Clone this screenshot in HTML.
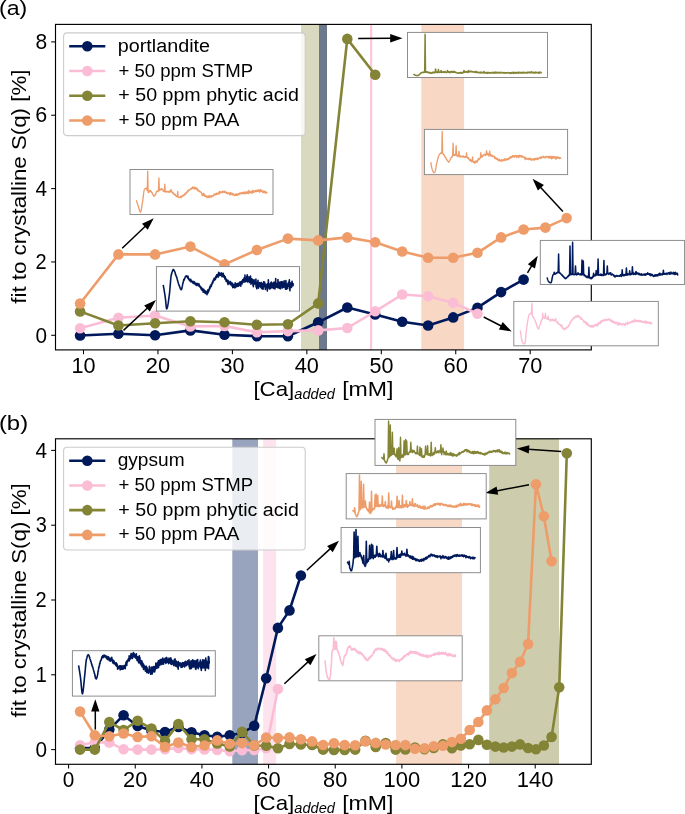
<!DOCTYPE html>
<html><head><meta charset="utf-8"><title>fit to crystalline S(q)</title>
<style>
html,body{margin:0;padding:0;background:#fff;}
body{width:685px;height:814px;overflow:hidden;font-family:"Liberation Sans", sans-serif;}
svg{display:block;will-change:transform;}
</style></head><body>
<svg width="685" height="814" viewBox="0 0 685 814" font-family='"Liberation Sans", sans-serif'>
<rect width="685" height="814" fill="#fff"/>
<rect x="301" y="24.4" width="18" height="325.5" fill="#d9d9c0"/>
<rect x="319" y="24.4" width="8" height="325.5" fill="#6c788c"/>
<rect x="370" y="24.4" width="2.2" height="325.5" fill="#fcc6dc"/>
<rect x="421.3" y="24.4" width="42.8" height="325.5" fill="#f8d8c4"/>
<polyline points="80.1,335.5 118.4,333.7 155.1,335.2 190.4,330.4 224.5,334.7 256.9,336.2 287.9,336.2 318.2,322.3 347.3,307.5 375.2,314.5 402.2,321.8 428.1,325.5 453.2,317.4 477.5,307.7 501.1,292.1 523.6,279.6" fill="none" stroke="#00195a" stroke-width="2.6" stroke-linejoin="round" stroke-linecap="butt"/>
<circle cx="80.1" cy="335.5" r="5.3" fill="#00195a"/>
<circle cx="118.4" cy="333.7" r="5.3" fill="#00195a"/>
<circle cx="155.1" cy="335.2" r="5.3" fill="#00195a"/>
<circle cx="190.4" cy="330.4" r="5.3" fill="#00195a"/>
<circle cx="224.5" cy="334.7" r="5.3" fill="#00195a"/>
<circle cx="256.9" cy="336.2" r="5.3" fill="#00195a"/>
<circle cx="287.9" cy="336.2" r="5.3" fill="#00195a"/>
<circle cx="318.2" cy="322.3" r="5.3" fill="#00195a"/>
<circle cx="347.3" cy="307.5" r="5.3" fill="#00195a"/>
<circle cx="375.2" cy="314.5" r="5.3" fill="#00195a"/>
<circle cx="402.2" cy="321.8" r="5.3" fill="#00195a"/>
<circle cx="428.1" cy="325.5" r="5.3" fill="#00195a"/>
<circle cx="453.2" cy="317.4" r="5.3" fill="#00195a"/>
<circle cx="477.5" cy="307.7" r="5.3" fill="#00195a"/>
<circle cx="501.1" cy="292.1" r="5.3" fill="#00195a"/>
<circle cx="523.6" cy="279.6" r="5.3" fill="#00195a"/>
<polyline points="80.1,328.2 118.4,317.7 155.1,315.5 190.4,326.4 224.5,326 256.9,332.3 287.9,331.1 318.2,330.4 347.3,328 375.2,311.3 402.2,294.5 428.1,296.3 453.2,302.8 477.5,313.8" fill="none" stroke="#fbbdd5" stroke-width="2.6" stroke-linejoin="round" stroke-linecap="butt"/>
<circle cx="80.1" cy="328.2" r="5.3" fill="#fbbdd5"/>
<circle cx="118.4" cy="317.7" r="5.3" fill="#fbbdd5"/>
<circle cx="155.1" cy="315.5" r="5.3" fill="#fbbdd5"/>
<circle cx="190.4" cy="326.4" r="5.3" fill="#fbbdd5"/>
<circle cx="224.5" cy="326" r="5.3" fill="#fbbdd5"/>
<circle cx="256.9" cy="332.3" r="5.3" fill="#fbbdd5"/>
<circle cx="287.9" cy="331.1" r="5.3" fill="#fbbdd5"/>
<circle cx="318.2" cy="330.4" r="5.3" fill="#fbbdd5"/>
<circle cx="347.3" cy="328" r="5.3" fill="#fbbdd5"/>
<circle cx="375.2" cy="311.3" r="5.3" fill="#fbbdd5"/>
<circle cx="402.2" cy="294.5" r="5.3" fill="#fbbdd5"/>
<circle cx="428.1" cy="296.3" r="5.3" fill="#fbbdd5"/>
<circle cx="453.2" cy="302.8" r="5.3" fill="#fbbdd5"/>
<circle cx="477.5" cy="313.8" r="5.3" fill="#fbbdd5"/>
<polyline points="80.1,311.4 118.4,325.5 155.1,323.3 190.4,321.2 224.5,322.3 256.9,324.8 287.9,324.2 318.2,303.4 347.3,38.9 375.2,74.7" fill="none" stroke="#848436" stroke-width="2.6" stroke-linejoin="round" stroke-linecap="butt"/>
<circle cx="80.1" cy="311.4" r="5.3" fill="#848436"/>
<circle cx="118.4" cy="325.5" r="5.3" fill="#848436"/>
<circle cx="155.1" cy="323.3" r="5.3" fill="#848436"/>
<circle cx="190.4" cy="321.2" r="5.3" fill="#848436"/>
<circle cx="224.5" cy="322.3" r="5.3" fill="#848436"/>
<circle cx="256.9" cy="324.8" r="5.3" fill="#848436"/>
<circle cx="287.9" cy="324.2" r="5.3" fill="#848436"/>
<circle cx="318.2" cy="303.4" r="5.3" fill="#848436"/>
<circle cx="347.3" cy="38.9" r="5.3" fill="#848436"/>
<circle cx="375.2" cy="74.7" r="5.3" fill="#848436"/>
<polyline points="80.1,303.5 118.4,254.4 155.1,254.4 190.4,246.6 224.5,264.4 256.9,250 287.9,238.6 318.2,240.4 347.3,237.4 375.2,242.3 402.2,251.5 428.1,257.7 453.2,257.7 477.5,252.8 501.1,237.4 523.6,229.5 545.4,227.6 566.6,218.1" fill="none" stroke="#ee9c6a" stroke-width="2.6" stroke-linejoin="round" stroke-linecap="butt"/>
<circle cx="80.1" cy="303.5" r="5.3" fill="#ee9c6a"/>
<circle cx="118.4" cy="254.4" r="5.3" fill="#ee9c6a"/>
<circle cx="155.1" cy="254.4" r="5.3" fill="#ee9c6a"/>
<circle cx="190.4" cy="246.6" r="5.3" fill="#ee9c6a"/>
<circle cx="224.5" cy="264.4" r="5.3" fill="#ee9c6a"/>
<circle cx="256.9" cy="250" r="5.3" fill="#ee9c6a"/>
<circle cx="287.9" cy="238.6" r="5.3" fill="#ee9c6a"/>
<circle cx="318.2" cy="240.4" r="5.3" fill="#ee9c6a"/>
<circle cx="347.3" cy="237.4" r="5.3" fill="#ee9c6a"/>
<circle cx="375.2" cy="242.3" r="5.3" fill="#ee9c6a"/>
<circle cx="402.2" cy="251.5" r="5.3" fill="#ee9c6a"/>
<circle cx="428.1" cy="257.7" r="5.3" fill="#ee9c6a"/>
<circle cx="453.2" cy="257.7" r="5.3" fill="#ee9c6a"/>
<circle cx="477.5" cy="252.8" r="5.3" fill="#ee9c6a"/>
<circle cx="501.1" cy="237.4" r="5.3" fill="#ee9c6a"/>
<circle cx="523.6" cy="229.5" r="5.3" fill="#ee9c6a"/>
<circle cx="545.4" cy="227.6" r="5.3" fill="#ee9c6a"/>
<circle cx="566.6" cy="218.1" r="5.3" fill="#ee9c6a"/>
<rect x="55.5" y="24.4" width="535.8" height="325.5" fill="none" stroke="#000" stroke-width="1.15"/>
<line x1="83.5" y1="349.9" x2="83.5" y2="354.2" stroke="#000" stroke-width="1.05"/>
<text x="71.48" y="372.8" font-size="21.4" textLength="24.1" lengthAdjust="spacingAndGlyphs">10</text>
<line x1="157.95" y1="349.9" x2="157.95" y2="354.2" stroke="#000" stroke-width="1.05"/>
<text x="145.76" y="372.8" font-size="21.4" textLength="24.27" lengthAdjust="spacingAndGlyphs">20</text>
<line x1="232.4" y1="349.9" x2="232.4" y2="354.2" stroke="#000" stroke-width="1.05"/>
<text x="220.55" y="372.8" font-size="21.4" textLength="23.92" lengthAdjust="spacingAndGlyphs">30</text>
<line x1="306.85" y1="349.9" x2="306.85" y2="354.2" stroke="#000" stroke-width="1.05"/>
<text x="294.78" y="372.8" font-size="21.4" textLength="24.14" lengthAdjust="spacingAndGlyphs">40</text>
<line x1="381.3" y1="349.9" x2="381.3" y2="354.2" stroke="#000" stroke-width="1.05"/>
<text x="369.43" y="372.8" font-size="21.4" textLength="23.94" lengthAdjust="spacingAndGlyphs">50</text>
<line x1="455.75" y1="349.9" x2="455.75" y2="354.2" stroke="#000" stroke-width="1.05"/>
<text x="443.48" y="372.8" font-size="21.4" textLength="24.35" lengthAdjust="spacingAndGlyphs">60</text>
<line x1="530.2" y1="349.9" x2="530.2" y2="354.2" stroke="#000" stroke-width="1.05"/>
<text x="518.17" y="372.8" font-size="21.4" textLength="24.1" lengthAdjust="spacingAndGlyphs">70</text>
<line x1="51.2" y1="335.3" x2="55.5" y2="335.3" stroke="#000" stroke-width="1.05"/>
<text x="35.49" y="342.5" font-size="21.4" textLength="11.55" lengthAdjust="spacingAndGlyphs">0</text>
<line x1="51.2" y1="261.95" x2="55.5" y2="261.95" stroke="#000" stroke-width="1.05"/>
<text x="35.44" y="269.15" font-size="21.4" textLength="11.13" lengthAdjust="spacingAndGlyphs">2</text>
<line x1="51.2" y1="188.6" x2="55.5" y2="188.6" stroke="#000" stroke-width="1.05"/>
<text x="35.49" y="195.8" font-size="21.4" textLength="11.55" lengthAdjust="spacingAndGlyphs">4</text>
<line x1="51.2" y1="115.25" x2="55.5" y2="115.25" stroke="#000" stroke-width="1.05"/>
<text x="35.29" y="122.45" font-size="21.4" textLength="11.95" lengthAdjust="spacingAndGlyphs">6</text>
<line x1="51.2" y1="41.9" x2="55.5" y2="41.9" stroke="#000" stroke-width="1.05"/>
<text x="35.43" y="49.1" font-size="21.4" textLength="11.68" lengthAdjust="spacingAndGlyphs">8</text>
<rect x="63.6" y="32.9" width="241.6" height="102.7" rx="3.5" fill="#fff" fill-opacity="0.8" stroke="#cccccc" stroke-width="1.1"/>
<line x1="69.2" y1="46.3" x2="105.3" y2="46.3" stroke="#00195a" stroke-width="2.6"/>
<circle cx="87.3" cy="46.3" r="5.3" fill="#00195a"/>
<text x="117.82" y="51.9" font-size="17.65" textLength="92.25" lengthAdjust="spacingAndGlyphs">portlandite</text>
<line x1="69.2" y1="71.03" x2="105.3" y2="71.03" stroke="#fbbdd5" stroke-width="2.6"/>
<circle cx="87.3" cy="71.03" r="5.3" fill="#fbbdd5"/>
<text x="118.45" y="76.63" font-size="17.65" textLength="134.57" lengthAdjust="spacingAndGlyphs">+ 50 ppm STMP</text>
<line x1="69.2" y1="95.76" x2="105.3" y2="95.76" stroke="#848436" stroke-width="2.6"/>
<circle cx="87.3" cy="95.76" r="5.3" fill="#848436"/>
<text x="118.39" y="101.36" font-size="17.65" textLength="180.46" lengthAdjust="spacingAndGlyphs">+ 50 ppm phytic acid</text>
<line x1="69.2" y1="120.49" x2="105.3" y2="120.49" stroke="#ee9c6a" stroke-width="2.6"/>
<circle cx="87.3" cy="120.49" r="5.3" fill="#ee9c6a"/>
<text x="118.43" y="126.09" font-size="17.65" textLength="120.99" lengthAdjust="spacingAndGlyphs">+ 50 ppm PAA</text>
<line x1="358.2" y1="38.4" x2="391.2" y2="38.25" stroke="#000" stroke-width="1.5"/>
<polygon points="402.5,38.2 390.22,42.4 390.18,34.1" fill="#000"/>
<line x1="562.9" y1="211.5" x2="540.24" y2="187.02" stroke="#000" stroke-width="1.5"/>
<polygon points="532.56,178.73 543.96,184.94 537.87,190.58" fill="#000"/>
<line x1="122.2" y1="248.2" x2="145.58" y2="225.95" stroke="#000" stroke-width="1.5"/>
<polygon points="153.76,218.16 147.71,229.64 141.99,223.63" fill="#000"/>
<line x1="123.5" y1="330.4" x2="147.71" y2="307.77" stroke="#000" stroke-width="1.5"/>
<polygon points="155.97,300.06 149.81,311.49 144.15,305.43" fill="#000"/>
<line x1="527.5" y1="272.8" x2="531.93" y2="265.45" stroke="#000" stroke-width="1.5"/>
<polygon points="537.76,255.77 534.97,268.45 527.86,264.17" fill="#000"/>
<line x1="483.7" y1="317" x2="501.7" y2="326.26" stroke="#000" stroke-width="1.5"/>
<polygon points="511.74,331.43 498.91,329.49 502.71,322.11" fill="#000"/>
<rect x="232.3" y="438.8" width="25.7" height="325.5" fill="#98a3bd"/>
<rect x="263.2" y="438.8" width="12.9" height="325.5" fill="#fde3ee"/>
<rect x="396.1" y="438.8" width="65.9" height="325.5" fill="#f8d9c6"/>
<rect x="489.2" y="438.8" width="69.8" height="325.5" fill="#cdcdae"/>
<polyline points="80.06,748 94.8,748 109.3,729.6 123.56,715.2 137.6,726 151.41,730.5 165,732 178.38,727 191.53,732.2 204.48,735.3 217.22,736.8 229.75,735.2 242.09,733 254.22,725.8 266.17,678.3 277.92,627.9 289.49,610.4 300.87,575.5" fill="none" stroke="#00195a" stroke-width="2.6" stroke-linejoin="round" stroke-linecap="butt"/>
<circle cx="80.06" cy="748" r="5.3" fill="#00195a"/>
<circle cx="94.8" cy="748" r="5.3" fill="#00195a"/>
<circle cx="109.3" cy="729.6" r="5.3" fill="#00195a"/>
<circle cx="123.56" cy="715.2" r="5.3" fill="#00195a"/>
<circle cx="137.6" cy="726" r="5.3" fill="#00195a"/>
<circle cx="151.41" cy="730.5" r="5.3" fill="#00195a"/>
<circle cx="165" cy="732" r="5.3" fill="#00195a"/>
<circle cx="178.38" cy="727" r="5.3" fill="#00195a"/>
<circle cx="191.53" cy="732.2" r="5.3" fill="#00195a"/>
<circle cx="204.48" cy="735.3" r="5.3" fill="#00195a"/>
<circle cx="217.22" cy="736.8" r="5.3" fill="#00195a"/>
<circle cx="229.75" cy="735.2" r="5.3" fill="#00195a"/>
<circle cx="242.09" cy="733" r="5.3" fill="#00195a"/>
<circle cx="254.22" cy="725.8" r="5.3" fill="#00195a"/>
<circle cx="266.17" cy="678.3" r="5.3" fill="#00195a"/>
<circle cx="277.92" cy="627.9" r="5.3" fill="#00195a"/>
<circle cx="289.49" cy="610.4" r="5.3" fill="#00195a"/>
<circle cx="300.87" cy="575.5" r="5.3" fill="#00195a"/>
<polyline points="80.06,745.2 94.8,742.2 109.3,742.4 123.56,749.3 137.6,749.6 151.41,749.6 165,749.2 178.38,748 191.53,749.2 204.48,749.4 217.22,750 229.75,751.3 242.09,750.3 254.22,750 266.17,748.2 277.92,689" fill="none" stroke="#fbbdd5" stroke-width="2.6" stroke-linejoin="round" stroke-linecap="butt"/>
<circle cx="80.06" cy="745.2" r="5.3" fill="#fbbdd5"/>
<circle cx="94.8" cy="742.2" r="5.3" fill="#fbbdd5"/>
<circle cx="109.3" cy="742.4" r="5.3" fill="#fbbdd5"/>
<circle cx="123.56" cy="749.3" r="5.3" fill="#fbbdd5"/>
<circle cx="137.6" cy="749.6" r="5.3" fill="#fbbdd5"/>
<circle cx="151.41" cy="749.6" r="5.3" fill="#fbbdd5"/>
<circle cx="165" cy="749.2" r="5.3" fill="#fbbdd5"/>
<circle cx="178.38" cy="748" r="5.3" fill="#fbbdd5"/>
<circle cx="191.53" cy="749.2" r="5.3" fill="#fbbdd5"/>
<circle cx="204.48" cy="749.4" r="5.3" fill="#fbbdd5"/>
<circle cx="217.22" cy="750" r="5.3" fill="#fbbdd5"/>
<circle cx="229.75" cy="751.3" r="5.3" fill="#fbbdd5"/>
<circle cx="242.09" cy="750.3" r="5.3" fill="#fbbdd5"/>
<circle cx="254.22" cy="750" r="5.3" fill="#fbbdd5"/>
<circle cx="266.17" cy="748.2" r="5.3" fill="#fbbdd5"/>
<circle cx="277.92" cy="689" r="5.3" fill="#fbbdd5"/>
<polyline points="80.06,749.6 94.8,749.6 109.3,722.1 123.56,730 137.6,720.8 151.41,728.6 165,740.9 178.38,724 191.53,739.3 204.48,739.3 217.22,743.4 229.75,746.5 242.09,731.9 254.22,745.5 266.17,745.7 277.92,748.2 289.49,744 300.87,744.5 312.07,745 323.1,749.6 333.95,750 344.63,750 355.15,749.6 365.5,740.7 375.7,747 385.74,743.1 395.63,749.6 405.37,749.5 414.96,747.6 424.42,749.3 433.73,748 442.91,744.4 451.96,748.2 460.88,745.5 469.68,744.2 478.35,739.9 486.91,744.8 495.36,746.6 503.69,747.5 511.92,746.6 520.04,744.4 528.07,748 535.99,749.2 543.83,745.5 551.57,736.9 559.23,687.3 566.81,453.2" fill="none" stroke="#848436" stroke-width="2.6" stroke-linejoin="round" stroke-linecap="butt"/>
<circle cx="80.06" cy="749.6" r="5.3" fill="#848436"/>
<circle cx="94.8" cy="749.6" r="5.3" fill="#848436"/>
<circle cx="109.3" cy="722.1" r="5.3" fill="#848436"/>
<circle cx="123.56" cy="730" r="5.3" fill="#848436"/>
<circle cx="137.6" cy="720.8" r="5.3" fill="#848436"/>
<circle cx="151.41" cy="728.6" r="5.3" fill="#848436"/>
<circle cx="165" cy="740.9" r="5.3" fill="#848436"/>
<circle cx="178.38" cy="724" r="5.3" fill="#848436"/>
<circle cx="191.53" cy="739.3" r="5.3" fill="#848436"/>
<circle cx="204.48" cy="739.3" r="5.3" fill="#848436"/>
<circle cx="217.22" cy="743.4" r="5.3" fill="#848436"/>
<circle cx="229.75" cy="746.5" r="5.3" fill="#848436"/>
<circle cx="242.09" cy="731.9" r="5.3" fill="#848436"/>
<circle cx="254.22" cy="745.5" r="5.3" fill="#848436"/>
<circle cx="266.17" cy="745.7" r="5.3" fill="#848436"/>
<circle cx="277.92" cy="748.2" r="5.3" fill="#848436"/>
<circle cx="289.49" cy="744" r="5.3" fill="#848436"/>
<circle cx="300.87" cy="744.5" r="5.3" fill="#848436"/>
<circle cx="312.07" cy="745" r="5.3" fill="#848436"/>
<circle cx="323.1" cy="749.6" r="5.3" fill="#848436"/>
<circle cx="333.95" cy="750" r="5.3" fill="#848436"/>
<circle cx="344.63" cy="750" r="5.3" fill="#848436"/>
<circle cx="355.15" cy="749.6" r="5.3" fill="#848436"/>
<circle cx="365.5" cy="740.7" r="5.3" fill="#848436"/>
<circle cx="375.7" cy="747" r="5.3" fill="#848436"/>
<circle cx="385.74" cy="743.1" r="5.3" fill="#848436"/>
<circle cx="395.63" cy="749.6" r="5.3" fill="#848436"/>
<circle cx="405.37" cy="749.5" r="5.3" fill="#848436"/>
<circle cx="414.96" cy="747.6" r="5.3" fill="#848436"/>
<circle cx="424.42" cy="749.3" r="5.3" fill="#848436"/>
<circle cx="433.73" cy="748" r="5.3" fill="#848436"/>
<circle cx="442.91" cy="744.4" r="5.3" fill="#848436"/>
<circle cx="451.96" cy="748.2" r="5.3" fill="#848436"/>
<circle cx="460.88" cy="745.5" r="5.3" fill="#848436"/>
<circle cx="469.68" cy="744.2" r="5.3" fill="#848436"/>
<circle cx="478.35" cy="739.9" r="5.3" fill="#848436"/>
<circle cx="486.91" cy="744.8" r="5.3" fill="#848436"/>
<circle cx="495.36" cy="746.6" r="5.3" fill="#848436"/>
<circle cx="503.69" cy="747.5" r="5.3" fill="#848436"/>
<circle cx="511.92" cy="746.6" r="5.3" fill="#848436"/>
<circle cx="520.04" cy="744.4" r="5.3" fill="#848436"/>
<circle cx="528.07" cy="748" r="5.3" fill="#848436"/>
<circle cx="535.99" cy="749.2" r="5.3" fill="#848436"/>
<circle cx="543.83" cy="745.5" r="5.3" fill="#848436"/>
<circle cx="551.57" cy="736.9" r="5.3" fill="#848436"/>
<circle cx="559.23" cy="687.3" r="5.3" fill="#848436"/>
<circle cx="566.81" cy="453.2" r="5.3" fill="#848436"/>
<polyline points="80.06,711.6 94.8,735.2 109.3,736.3 123.56,733.5 137.6,736.9 151.41,736.3 165,747 178.38,742.5 191.53,747 204.48,745.5 217.22,740.4 229.75,743.8 242.09,743.1 254.22,745.2 266.17,737.5 277.92,738 289.49,737.4 300.87,739.3 312.07,741.4 323.1,745 333.95,743.2 344.63,745.1 355.15,745.2 365.5,741.4 375.7,742.9 385.74,744.5 395.63,745 405.37,745.1 414.96,748.8 424.42,748.2 433.73,746.2 442.91,745.7 451.96,742.1 460.88,738.8 469.68,730 478.35,722 486.91,710.4 495.36,699.3 503.69,688 511.92,673 520.04,661.8 528.07,644 535.99,484.2 543.83,516.2 551.57,561.3" fill="none" stroke="#ee9c6a" stroke-width="2.6" stroke-linejoin="round" stroke-linecap="butt"/>
<circle cx="80.06" cy="711.6" r="5.3" fill="#ee9c6a"/>
<circle cx="94.8" cy="735.2" r="5.3" fill="#ee9c6a"/>
<circle cx="109.3" cy="736.3" r="5.3" fill="#ee9c6a"/>
<circle cx="123.56" cy="733.5" r="5.3" fill="#ee9c6a"/>
<circle cx="137.6" cy="736.9" r="5.3" fill="#ee9c6a"/>
<circle cx="151.41" cy="736.3" r="5.3" fill="#ee9c6a"/>
<circle cx="165" cy="747" r="5.3" fill="#ee9c6a"/>
<circle cx="178.38" cy="742.5" r="5.3" fill="#ee9c6a"/>
<circle cx="191.53" cy="747" r="5.3" fill="#ee9c6a"/>
<circle cx="204.48" cy="745.5" r="5.3" fill="#ee9c6a"/>
<circle cx="217.22" cy="740.4" r="5.3" fill="#ee9c6a"/>
<circle cx="229.75" cy="743.8" r="5.3" fill="#ee9c6a"/>
<circle cx="242.09" cy="743.1" r="5.3" fill="#ee9c6a"/>
<circle cx="254.22" cy="745.2" r="5.3" fill="#ee9c6a"/>
<circle cx="266.17" cy="737.5" r="5.3" fill="#ee9c6a"/>
<circle cx="277.92" cy="738" r="5.3" fill="#ee9c6a"/>
<circle cx="289.49" cy="737.4" r="5.3" fill="#ee9c6a"/>
<circle cx="300.87" cy="739.3" r="5.3" fill="#ee9c6a"/>
<circle cx="312.07" cy="741.4" r="5.3" fill="#ee9c6a"/>
<circle cx="323.1" cy="745" r="5.3" fill="#ee9c6a"/>
<circle cx="333.95" cy="743.2" r="5.3" fill="#ee9c6a"/>
<circle cx="344.63" cy="745.1" r="5.3" fill="#ee9c6a"/>
<circle cx="355.15" cy="745.2" r="5.3" fill="#ee9c6a"/>
<circle cx="365.5" cy="741.4" r="5.3" fill="#ee9c6a"/>
<circle cx="375.7" cy="742.9" r="5.3" fill="#ee9c6a"/>
<circle cx="385.74" cy="744.5" r="5.3" fill="#ee9c6a"/>
<circle cx="395.63" cy="745" r="5.3" fill="#ee9c6a"/>
<circle cx="405.37" cy="745.1" r="5.3" fill="#ee9c6a"/>
<circle cx="414.96" cy="748.8" r="5.3" fill="#ee9c6a"/>
<circle cx="424.42" cy="748.2" r="5.3" fill="#ee9c6a"/>
<circle cx="433.73" cy="746.2" r="5.3" fill="#ee9c6a"/>
<circle cx="442.91" cy="745.7" r="5.3" fill="#ee9c6a"/>
<circle cx="451.96" cy="742.1" r="5.3" fill="#ee9c6a"/>
<circle cx="460.88" cy="738.8" r="5.3" fill="#ee9c6a"/>
<circle cx="469.68" cy="730" r="5.3" fill="#ee9c6a"/>
<circle cx="478.35" cy="722" r="5.3" fill="#ee9c6a"/>
<circle cx="486.91" cy="710.4" r="5.3" fill="#ee9c6a"/>
<circle cx="495.36" cy="699.3" r="5.3" fill="#ee9c6a"/>
<circle cx="503.69" cy="688" r="5.3" fill="#ee9c6a"/>
<circle cx="511.92" cy="673" r="5.3" fill="#ee9c6a"/>
<circle cx="520.04" cy="661.8" r="5.3" fill="#ee9c6a"/>
<circle cx="528.07" cy="644" r="5.3" fill="#ee9c6a"/>
<circle cx="535.99" cy="484.2" r="5.3" fill="#ee9c6a"/>
<circle cx="543.83" cy="516.2" r="5.3" fill="#ee9c6a"/>
<circle cx="551.57" cy="561.3" r="5.3" fill="#ee9c6a"/>
<rect x="55.5" y="438.8" width="535.8" height="325.5" fill="none" stroke="#000" stroke-width="1.15"/>
<line x1="68.6" y1="764.3" x2="68.6" y2="768.6" stroke="#000" stroke-width="1.05"/>
<text x="62.82" y="787.2" font-size="21.4" textLength="11.55" lengthAdjust="spacingAndGlyphs">0</text>
<line x1="135.26" y1="764.3" x2="135.26" y2="768.6" stroke="#000" stroke-width="1.05"/>
<text x="123.07" y="787.2" font-size="21.4" textLength="24.27" lengthAdjust="spacingAndGlyphs">20</text>
<line x1="201.92" y1="764.3" x2="201.92" y2="768.6" stroke="#000" stroke-width="1.05"/>
<text x="189.85" y="787.2" font-size="21.4" textLength="24.14" lengthAdjust="spacingAndGlyphs">40</text>
<line x1="268.57" y1="764.3" x2="268.57" y2="768.6" stroke="#000" stroke-width="1.05"/>
<text x="256.3" y="787.2" font-size="21.4" textLength="24.35" lengthAdjust="spacingAndGlyphs">60</text>
<line x1="335.23" y1="764.3" x2="335.23" y2="768.6" stroke="#000" stroke-width="1.05"/>
<text x="323.09" y="787.2" font-size="21.4" textLength="24.22" lengthAdjust="spacingAndGlyphs">80</text>
<line x1="401.89" y1="764.3" x2="401.89" y2="768.6" stroke="#000" stroke-width="1.05"/>
<text x="383.58" y="787.2" font-size="21.4" textLength="36.67" lengthAdjust="spacingAndGlyphs">100</text>
<line x1="468.55" y1="764.3" x2="468.55" y2="768.6" stroke="#000" stroke-width="1.05"/>
<text x="450.24" y="787.2" font-size="21.4" textLength="36.67" lengthAdjust="spacingAndGlyphs">120</text>
<line x1="535.21" y1="764.3" x2="535.21" y2="768.6" stroke="#000" stroke-width="1.05"/>
<text x="516.89" y="787.2" font-size="21.4" textLength="36.67" lengthAdjust="spacingAndGlyphs">140</text>
<line x1="51.2" y1="749.6" x2="55.5" y2="749.6" stroke="#000" stroke-width="1.05"/>
<text x="35.49" y="756.8" font-size="21.4" textLength="11.55" lengthAdjust="spacingAndGlyphs">0</text>
<line x1="51.2" y1="674.8" x2="55.5" y2="674.8" stroke="#000" stroke-width="1.05"/>
<text x="35.66" y="682" font-size="21.4" textLength="11.03" lengthAdjust="spacingAndGlyphs">1</text>
<line x1="51.2" y1="600" x2="55.5" y2="600" stroke="#000" stroke-width="1.05"/>
<text x="35.44" y="607.2" font-size="21.4" textLength="11.13" lengthAdjust="spacingAndGlyphs">2</text>
<line x1="51.2" y1="525.2" x2="55.5" y2="525.2" stroke="#000" stroke-width="1.05"/>
<text x="35.75" y="532.4" font-size="21.4" textLength="11.09" lengthAdjust="spacingAndGlyphs">3</text>
<line x1="51.2" y1="450.4" x2="55.5" y2="450.4" stroke="#000" stroke-width="1.05"/>
<text x="35.49" y="457.6" font-size="21.4" textLength="11.55" lengthAdjust="spacingAndGlyphs">4</text>
<rect x="63.6" y="447.3" width="241.6" height="102.7" rx="3.5" fill="#fff" fill-opacity="0.8" stroke="#cccccc" stroke-width="1.1"/>
<line x1="69.2" y1="460.7" x2="105.3" y2="460.7" stroke="#00195a" stroke-width="2.6"/>
<circle cx="87.3" cy="460.7" r="5.3" fill="#00195a"/>
<text x="117.7" y="466.3" font-size="17.65" textLength="66.9" lengthAdjust="spacingAndGlyphs">gypsum</text>
<line x1="69.2" y1="485.43" x2="105.3" y2="485.43" stroke="#fbbdd5" stroke-width="2.6"/>
<circle cx="87.3" cy="485.43" r="5.3" fill="#fbbdd5"/>
<text x="118.45" y="491.03" font-size="17.65" textLength="134.57" lengthAdjust="spacingAndGlyphs">+ 50 ppm STMP</text>
<line x1="69.2" y1="510.16" x2="105.3" y2="510.16" stroke="#848436" stroke-width="2.6"/>
<circle cx="87.3" cy="510.16" r="5.3" fill="#848436"/>
<text x="118.39" y="515.76" font-size="17.65" textLength="180.46" lengthAdjust="spacingAndGlyphs">+ 50 ppm phytic acid</text>
<line x1="69.2" y1="534.89" x2="105.3" y2="534.89" stroke="#ee9c6a" stroke-width="2.6"/>
<circle cx="87.3" cy="534.89" r="5.3" fill="#ee9c6a"/>
<text x="118.43" y="540.49" font-size="17.65" textLength="120.99" lengthAdjust="spacingAndGlyphs">+ 50 ppm PAA</text>
<line x1="561.2" y1="451.5" x2="528.07" y2="449.24" stroke="#000" stroke-width="1.5"/>
<polygon points="516.8,448.47 529.36,445.16 528.79,453.44" fill="#000"/>
<line x1="529" y1="484.7" x2="496.41" y2="490.89" stroke="#000" stroke-width="1.5"/>
<polygon points="485.31,492.99 496.62,486.62 498.17,494.78" fill="#000"/>
<line x1="306.8" y1="570.3" x2="330.64" y2="548.4" stroke="#000" stroke-width="1.5"/>
<polygon points="338.97,540.76 332.72,552.14 327.1,546.02" fill="#000"/>
<line x1="284.4" y1="683.8" x2="308.28" y2="661.65" stroke="#000" stroke-width="1.5"/>
<polygon points="316.57,653.96 310.37,665.37 304.73,659.28" fill="#000"/>
<line x1="95.3" y1="729.6" x2="95.3" y2="710.6" stroke="#000" stroke-width="1.5"/>
<polygon points="95.3,699.3 99.45,711.6 91.15,711.6" fill="#000"/>
<rect x="407.5" y="32.4" width="140" height="45.1" fill="#fff" stroke="#888888" stroke-width="0.95"/>
<polyline points="413.4,73.9 413.6,74.11 413.8,74.29 414,74.44 414.2,74.63 414.4,74.76 414.6,74.87 414.8,75.01 415,75.11 415.2,75.2 415.4,75.26 415.6,75.36 415.8,75.36 416,75.43 416.2,75.46 416.4,75.55 416.6,75.55 416.8,75.55 417,75.53 417.2,75.57 417.4,75.6 417.6,75.58 417.8,75.7 418,75.64 418.2,75.24 418.4,75.19 418.6,75.2 418.8,75.02 419,74.9 419.2,74.7 419.4,74.7 419.6,74.15 419.8,74.03 420,74.11 420.2,73.76 420.4,73.6 420.6,73.31 420.8,73.03 421,73.18 421.2,73.08 421.4,72.81 421.6,72.79 421.8,72.8 422,72.58 422.2,72.63 422.4,72.59 422.6,72.51 422.8,72.36 423,72.48 423.2,72.48 423.4,72.34 423.6,72.1 423.8,72.35 424,72.11 424.2,72.35 424.4,71.97 424.6,72.33 424.7,72.15 425.1,34.3 425.5,72.11 425.6,72.17 425.8,71.89 426,71.86 426.2,72.14 426.4,72 426.6,72.17 426.8,72.31 427,71.78 427.2,72.26 427.4,72.53 427.6,72.21 427.8,72.13 428,72.57 428.2,72.5 428.4,72.72 428.6,72.46 428.8,72.24 429,72.63 429.2,72.6 429.4,72.96 429.6,72.86 429.8,72.45 430,72.6 430.2,73.15 430.4,73.13 430.6,72.82 430.8,73 431,73.11 431.2,73.11 431.4,73.2 431.6,73.01 431.8,72.89 432,72.81 432.2,73.09 432.4,72.21 432.6,72.69 432.8,72.68 433,72.26 433.2,72.65 433.4,72.36 433.6,72.7 433.8,72.41 434,72.58 434.2,72.7 434.4,72.48 434.6,72.16 434.8,71.99 435,72.79 435.2,72.32 435.2,72.35 435.6,68.9 436,72.31 436.2,72.31 436.4,72.3 436.6,72.11 436.8,72.4 437,72.02 437.2,72.44 437.4,72.65 437.6,71.88 437.8,71.64 438,72.4 438,72.25 438.4,69.4 438.8,72.23 439,72.02 439.2,72.09 439.4,72.13 439.6,72.34 439.8,72.1 440,72.27 440.2,72.15 440.4,71.98 440.6,72.1 440.7,72.18 441.1,70.5 441.5,72.15 441.6,72.52 441.8,72.13 442,72.13 442.2,72.26 442.4,72.02 442.6,72.07 442.8,72.22 443,72.18 443.2,71.82 443.4,72.32 443.6,71.96 443.8,71.84 444,71.88 444.2,72 444.4,72.51 444.6,71.81 444.8,72.14 445,71.57 445.2,72.1 445.4,72.32 445.6,72.04 445.8,71.94 446,72.16 446.2,72.28 446.4,72.27 446.6,72.59 446.8,72.15 447,71.95 447.1,72.1 447.5,70.5 447.9,72.1 448,72.14 448.2,71.68 448.4,72.31 448.6,71.96 448.8,71.81 449,72.26 449.2,72.43 449.4,72.22 449.6,72.14 449.8,71.87 450,72.81 450.2,72.31 450.4,71.79 450.6,71.87 450.8,72.07 451,71.65 451.2,72.06 451.4,71.89 451.6,72.29 451.8,72.21 452,71.27 452.2,71.94 452.4,71.51 452.6,72.17 452.8,71.92 453,72 453.2,71.58 453.4,72.29 453.6,72.33 453.8,71.55 454,71.9 454.2,71.63 454.4,71.79 454.6,71.5 454.8,72.34 455,71.72 455.2,72 455.4,72.32 455.6,72.17 455.8,72.41 456,72.46 456.2,72.7 456.4,72.55 456.6,72.81 456.8,72.93 457,72.92 457.2,73.01 457.4,72.93 457.6,73.19 457.8,72.92 458,72.97 458.2,72.83 458.4,72.87 458.6,72.68 458.8,73.13 459,72.71 459.2,72.81 459.4,73.09 459.6,73.1 459.8,72.9 460,72.5 460.2,73.11 460.4,73.06 460.6,72.64 460.8,73.18 461,72.79 461.2,72.66 461.4,72.95 461.6,72.85 461.8,72.91 462,72.42 462.2,73.24 462.4,72.6 462.6,72.32 462.8,72.81 463,72.53 463.2,72.65 463.4,72.43 463.6,72.46 463.6,72.47 464,70.5 464.4,72.28 464.6,72.02 464.8,72.22 465,72.27 465.2,72.06 465.4,71.87 465.6,72.21 465.8,71.58 466,71.74 466.2,71.99 466.4,71.61 466.6,71.94 466.8,71.9 467,72.11 467.2,71.64 467.4,71.69 467.6,71.9 467.8,71.18 468,72.55 468.2,71.58 468.4,71.55 468.4,71.74 468.8,70.5 469.2,71.67 469.4,71.87 469.6,71.53 469.8,71.56 470,71.74 470.2,71.39 470.4,71.72 470.6,71.65 470.8,71.43 471,71.25 471.2,71.55 471.4,71.39 471.6,71.87 471.8,71.66 472,71.84 472.2,71.69 472.4,71.74 472.6,71.5 472.8,71.88 473,72.18 473.2,71.68 473.4,71.64 473.6,71.77 473.8,71.72 474,71.7 474.2,71.94 474.4,71.86 474.6,72.33 474.8,72 475,72.11 475.2,72.3 475.4,72.02 475.6,72.49 475.6,72.13 476,71.2 476.4,72.26 476.6,71.94 476.8,72.31 477,71.94 477.2,72.73 477.4,72.39 477.6,72.28 477.8,72.23 478,72.39 478.2,72.45 478.4,72.27 478.6,72.32 478.8,72.51 479,72.45 479.2,72.82 479.4,72.88 479.6,72.61 479.8,72.73 480,72.28 480.2,72.78 480.4,72.62 480.6,72.76 480.8,73.04 481,72.08 481.2,72.72 481.4,72.39 481.6,72.81 481.8,72.34 482,72.55 482.2,72.73 482.4,72.84 482.6,72.71 482.8,72.5 483,72.57 483.2,72.93 483.4,72.71 483.6,72.3 483.6,72.72 484,71.4 484.4,72.74 484.6,72.95 484.8,72.48 485,72.89 485.2,72.63 485.4,72.93 485.6,73.01 485.8,72.58 486,72.75 486.2,72.78 486.4,73.07 486.6,72.95 486.8,72.47 487,72.9 487.2,72.97 487.4,73.32 487.6,72.37 487.8,72.66 488,73.12 488.2,72.45 488.4,72.49 488.6,72.92 488.8,73.05 489,72.63 489.2,72.93 489.4,72.83 489.6,73.18 489.8,72.8 490,73.05 490.2,72.57 490.4,72.75 490.6,72.77 490.8,73.08 491,72.94 491.2,72.6 491.4,72.96 491.6,72.98 491.8,72.75 492,72.71 492.2,72.73 492.4,72.35 492.6,72.81 492.8,72.82 493,72.54 493.2,72.94 493.4,72.4 493.6,72.6 493.8,72.62 494,73.23 494.2,72.32 494.4,72.86 494.6,72.95 494.8,72.8 495,73 495.2,72.44 495.4,72.12 495.6,72.87 495.8,72.38 496,72.59 496.2,72.37 496.4,72.92 496.6,72.87 496.8,72.47 497,72.87 497.2,72.67 497.4,72.6 497.6,72.64 497.8,72.57 498,72.77 498.2,72.69 498.4,72.53 498.6,72.86 498.8,72.46 499,72.68 499.2,72.71 499.4,72.97 499.6,72.47 499.8,73.04 500,72.64 500.2,72.55 500.4,72.43 500.6,72.75 500.8,72.62 501,72.33 501.2,72.33 501.4,72.48 501.6,72.45 501.8,72.9 502,72.98 502.2,72.85 502.4,72.73 502.6,72.54 502.8,72.67 503,72.89 503.2,73.21 503.4,72.91 503.6,72.62 503.8,72.71 504,72.58 504.2,72.52 504.4,72.68 504.6,72.78 504.8,73.2 505,72.76 505.2,73.1 505.4,73.21 505.6,72.8 505.8,73.19 506,72.97 506.2,72.7 506.4,72.88 506.6,72.83 506.8,72.77 507,72.79 507.2,72.88 507.4,72.96 507.6,72.64 507.8,72.86 508,72.49 508.2,72.94 508.4,73.04 508.6,72.92 508.8,72.96 509,73.04 509.2,72.73 509.4,72.84 509.6,73.03 509.8,73.15 510,73 510.2,73.54 510.4,72.88 510.6,73.15 510.8,73.21 511,72.86 511.2,72.69 511.4,72.6 511.6,72.93 511.8,73.16 512,72.95 512.2,72.92 512.4,72.78 512.6,73.01 512.8,72.34 513,72.92 513.2,72.87 513.4,72.51 513.6,73.4 513.8,72.5 514,72.57 514.2,72.54 514.4,73.11 514.6,72.61 514.8,72.99 515,72.96 515.2,72.88 515.4,72.48 515.6,72.65 515.8,73.21 516,72.47 516.2,72.58 516.4,72.74 516.6,72.98 516.8,72.83 517,72.95 517.2,72.49 517.4,72.99 517.6,72.89 517.8,72.34 518,73.12 518.2,73.31 518.4,72.54 518.6,72.74 518.8,73.07 519,72.35 519.2,72.22 519.4,72.38 519.6,72.56 519.8,72.56 520,72.85 520.2,72.76 520.4,72.38 520.6,72.83 520.8,73.16 521,72.99 521.2,72.93 521.4,72.69 521.6,72.93 521.8,72.44 522,72.86 522.2,72.65 522.4,72.95 522.6,72.79 522.8,72.39 523,72.7 523.2,72.97 523.4,72.38 523.6,72.52 523.8,72.46 524,72.28 524.2,72.89 524.4,72.98 524.6,72.85 524.8,72.71 525,72.63 525.2,72.7 525.4,72.46 525.6,72.86 525.8,72.9 526,72.87 526.2,72.5 526.4,72.65 526.6,72.59 526.8,73.08 527,72.67 527.2,72.15 527.4,72.72 527.6,73.09 527.8,72.79 528,72.84 528.2,72.63 528.4,72.12 528.6,72.16 528.8,72.3 529,72.58 529.2,72.68 529.4,72.78 529.6,72.52 529.8,72.84 530,72.53 530.2,72.42 530.4,72.81 530.6,72.37 530.8,71.91 531,72.33 531.2,72.61 531.4,71.82 531.6,72.5 531.8,72.5 532,72.23 532.2,72.21 532.4,72.46 532.6,72.44 532.8,72.89 533,72.67 533.2,72.18 533.4,72.36 533.6,72.74 533.8,73.04 534,72.66 534.2,72.64 534.4,73.03 534.6,72.55 534.8,72.48 535,72.2 535.2,72.43 535.4,73.1 535.6,72.19 535.8,72.55 536,72.19 536.2,72.58 536.4,72.77 536.6,72.48 536.8,72.72 537,72.72 537.2,72.65 537.4,72.96 537.6,72.73 537.8,72.46 538,72.36 538.2,72.32 538.4,72.65 538.6,72.44 538.8,73.21 539,72.98 539.2,72.47 539.4,72.44 539.6,72.94 539.8,72.04 540,72.4 540.2,72.75 540.4,72.28 540.6,72.39 540.8,72.42 541,72.67 541.2,72.54 541.4,72.6 541.6,72.65 541.8,72.51" fill="none" stroke="#848436" stroke-width="1.5" stroke-linejoin="round"/>
<rect x="424.4" y="129.4" width="143.2" height="45.2" fill="#fff" stroke="#888888" stroke-width="0.95"/>
<polyline points="430.8,162.2 431,163.53 431.2,164.76 431.4,165.83 431.6,166.96 431.8,167.86 432,168.63 432.2,169.4 432.4,170.02 432.6,170.54 432.8,171.1 433,171.44 433.2,171.78 433.4,172.03 433.6,172.33 433.8,172.46 434,172.62 434.2,172.62 434.4,172.71 434.6,172.59 434.8,172.47 435,171.93 435.2,171.25 435.4,170.42 435.6,169.31 435.8,168.42 436,167.44 436.2,165.9 436.4,164.76 436.6,163.7 436.8,162.97 437,162 437.2,161.36 437.4,160.56 437.6,159.71 437.8,158.95 438,158.12 438.2,157.54 438.4,156.57 438.6,156.05 438.8,155.61 439,155.42 439.2,154.68 439.4,154.35 439.6,154.18 439.8,154.19 440,153.76 440.2,153.83 440.4,153.07 440.6,153.47 440.8,153.33 441,152.78 441.2,153.04 441.4,153.25 441.6,153.06 441.75,153.09 442.2,131.4 442.65,153.62 442.8,153.87 443,153.83 443.2,154.02 443.4,154.25 443.6,154.67 443.8,154.53 444,154.7 444.2,154.78 444.4,156 444.6,156.04 444.8,156.73 445,156.65 445.2,156.77 445.4,157.39 445.6,157.52 445.8,157.5 446,157.93 446.2,159.03 446.4,158.99 446.6,159.38 446.8,159.54 447,159.77 447.2,160.59 447.4,160.61 447.6,160.71 447.8,161.16 448,161.14 448.2,161.66 448.4,162.09 448.6,161.52 448.8,162.26 449,161.47 449.2,161.56 449.4,160.98 449.6,160.87 449.8,160.59 450,160.02 450.2,159.49 450.4,159.04 450.6,158.53 450.8,157.8 451,157.82 451.2,157.64 451.4,157.44 451.6,157.02 451.8,157.39 452,156.41 452.2,155.92 452.4,156.55 452.6,155.29 452.65,155.62 453.1,143.2 453.55,154.91 453.6,155.22 453.8,154.76 454,154.44 454.2,155.43 454.4,155.11 454.6,154.86 454.8,154.6 455,154.9 455.2,154.9 455.4,155.29 455.6,155.37 455.65,155.08 456.1,145.7 456.55,155.35 456.6,155.14 456.8,155.38 457,155.74 457.2,156.04 457.4,155.27 457.6,155.85 457.8,155.52 458,156.57 458.2,155.8 458.4,156.08 458.55,155.93 459,151.1 459.45,156.2 459.6,155.62 459.8,156.55 460,155.98 460.2,157.07 460.4,156.3 460.6,156.9 460.8,155.92 461,156.69 461.2,156.19 461.4,156.38 461.6,156.61 461.8,156.5 462,156.76 462.2,156.99 462.4,156.97 462.6,156.69 462.8,156.19 463,156.45 463.2,156.72 463.4,155.95 463.6,157.17 463.8,156.79 464,156.81 464.2,157.34 464.4,157.25 464.6,157.09 464.8,156.59 465,157.17 465.2,157.21 465.4,156.71 465.6,157.56 465.8,157.36 466,156.33 466.15,157.2 466.6,153 467.05,157.39 467.2,157.05 467.4,157.56 467.6,157.54 467.8,158.46 468,158.29 468.2,158.03 468.4,158.61 468.6,157.67 468.8,158.92 469,159.39 469.2,159.14 469.4,159.11 469.6,159.88 469.8,160.69 470,160.06 470.2,159.59 470.4,160.87 470.6,159.49 470.8,160.69 471,160.32 471.2,161.13 471.4,160.44 471.6,161.56 471.8,161.21 472,160.39 472.15,161.27 472.6,156.9 473.05,161.72 473.2,161.68 473.4,162.21 473.6,162.12 473.8,162.14 474,161.6 474.2,162.67 474.4,162.79 474.6,161.56 474.8,163.29 475,162.54 475.2,161.95 475.4,161.23 475.6,162.39 475.8,162.25 476,161.58 476.2,160.88 476.4,162.13 476.6,161.15 476.8,161.03 477,162.46 477.2,161.92 477.4,161.16 477.6,160.28 477.8,160.62 478,159 478.2,159.98 478.4,159.38 478.6,158.95 478.8,158.64 479,159.51 479.2,159.13 479.4,158.98 479.6,159.14 479.8,158.11 480,157.72 480.2,157.26 480.35,158 480.8,152.7 481.25,157.14 481.4,156.77 481.6,156.45 481.8,156.04 482,157.43 482.2,156.77 482.4,155.82 482.6,155.69 482.8,155.93 483,155.12 483.2,155.96 483.4,154.98 483.6,155.34 483.8,154.9 484,155.07 484.2,154.53 484.4,154.31 484.6,154.52 484.8,154.58 485,154.69 485.2,154.79 485.4,155.46 485.6,155.04 485.8,154.45 486,154.91 486.05,154.53 486.5,150.6 486.95,154.51 487,154.89 487.2,154.93 487.4,153.18 487.6,154.18 487.8,154.34 488,153.63 488.2,154.09 488.4,154.18 488.6,154.94 488.8,154.87 489,156.09 489.2,154.6 489.25,154.81 489.7,151.1 490.15,155.01 490.2,154.05 490.4,154.68 490.6,155.5 490.8,155.97 491,155.53 491.2,155.53 491.4,154.9 491.6,156.17 491.8,156.15 492,155.29 492.2,155.64 492.4,155.26 492.6,156.63 492.8,156.22 493,156.09 493.2,156.48 493.4,156.64 493.6,156.36 493.8,156.08 494,156.21 494.2,156.14 494.4,157.41 494.6,158.46 494.8,156.62 495,157.7 495.2,157.99 495.4,157.43 495.6,158.18 495.8,157.67 496,159.02 496.2,158.28 496.4,158.81 496.6,159.27 496.8,158.85 497,158.29 497.2,159.03 497.4,159.77 497.6,159.42 497.8,159.66 498,159.06 498.2,159.76 498.4,160.13 498.6,159.85 498.8,160.87 499,159.85 499.2,159.48 499.4,159.25 499.6,160.72 499.8,160.15 500,160.74 500.2,160.5 500.4,161.13 500.6,160.98 500.8,160.16 501,160.51 501.2,160.94 501.4,159.76 501.6,161.14 501.8,161.02 502,160.9 502.2,160.28 502.4,160.52 502.6,159.77 502.8,160.35 503,159.99 503.2,160.31 503.4,159.98 503.6,160.34 503.8,160.76 504,159.44 504.2,160.55 504.4,159 504.6,158.86 504.8,159.86 505,159.88 505.2,160.05 505.4,158.91 505.6,159.68 505.8,159.72 506,160.24 506.2,159.48 506.4,159.75 506.6,158.91 506.8,159.26 507,159.07 507.2,159.6 507.4,158.65 507.6,158.65 507.8,159.29 508,159.82 508.2,158.99 508.4,158.84 508.6,158.39 508.8,159.02 509,158.62 509.2,159.12 509.4,158.28 509.6,157.5 509.8,157.58 510,157.25 510.2,157.01 510.4,158.21 510.6,157.88 510.8,156.73 511,158.22 511.2,157.36 511.4,156.67 511.6,157.31 511.8,157.02 512,156.59 512.2,155.93 512.4,156.9 512.6,156.97 512.8,155.42 513,157 513.2,156.98 513.4,156.36 513.6,156.61 513.8,156.35 514,156.02 514.2,156.22 514.4,157.07 514.6,155.57 514.8,156.41 515,156.35 515.2,155.85 515.4,155.96 515.6,155.44 515.8,155.7 516,156.14 516.2,156.28 516.4,155.64 516.6,157.7 516.8,155.8 517,156.17 517.2,155.98 517.4,155.9 517.6,156.8 517.8,155.88 518,156.83 518.2,156.74 518.4,155.61 518.6,156.72 518.8,155.85 519,157.64 519.2,156.02 519.4,155.75 519.6,155.26 519.8,155.61 520,156 520.2,155.81 520.4,155.71 520.6,156.02 520.8,156.3 521,157.2 521.2,155.57 521.4,156.2 521.6,156.02 521.8,155.76 522,155.92 522.2,156.14 522.4,157.04 522.6,156.62 522.8,156.5 523,157.19 523.2,157.1 523.4,156.92 523.6,157.34 523.8,156.81 524,157.68 524.2,157.71 524.4,157.36 524.6,157.04 524.8,158.6 525,157.96 525.2,159.62 525.4,157.77 525.6,158.66 525.8,158.06 526,158.51 526.2,158.88 526.4,158.08 526.6,158.5 526.8,158.69 527,158.72 527.2,159.03 527.4,159.31 527.6,159.26 527.8,159.01 528,158.74 528.2,158.37 528.4,158.63 528.6,158.79 528.8,159.48 529,158.96 529.2,158.54 529.4,159.57 529.6,158.85 529.8,158.91 530,159.23 530.2,159.63 530.4,158.12 530.6,158.83 530.8,159.54 531,159.27 531.2,159.02 531.4,159.2 531.6,160.23 531.8,159.26 532,159.88 532.2,159.92 532.4,159.25 532.6,159.71 532.8,159.22 533,159.12 533.2,158.83 533.4,159.87 533.6,159.17 533.8,159.07 534,158.73 534.2,160.27 534.4,159.67 534.6,159.17 534.8,158.84 535,158.36 535.2,159.3 535.4,159.27 535.6,158.33 535.8,159.66 536,159.42 536.2,158.46 536.4,158.64 536.6,158.67 536.8,158.95 537,158.76 537.2,157.92 537.4,159.55 537.6,158.9 537.8,159.36 538,159.31 538.2,158.48 538.4,158.72 538.6,158.88 538.8,158.84 539,158.28 539.2,157.98 539.4,158.27 539.6,157.76 539.8,157.83 540,156.97 540.2,158.04 540.4,157.38 540.6,157.57 540.8,157.78 541,157.91 541.2,158.7 541.4,157.73 541.6,156.8 541.8,157.57 542,157.12 542.2,157.61 542.4,156.97 542.6,156.91 542.8,156.97 543,156.86 543.2,156.18 543.4,156.77 543.6,157.09 543.8,157.71 544,156.89 544.2,156.82 544.4,157.32 544.6,157.29 544.8,157.86 545,157.32 545.2,156.99 545.4,157.73 545.6,157.83 545.8,156.76 546,157.1 546.2,156.11 546.4,156.83 546.6,156.56 546.8,156.93 547,156.8 547.2,156.98 547.4,157.02 547.6,157.35 547.8,157.22 548,156.81 548.2,156.42 548.4,157.8 548.6,157.92 548.8,156.91 549,157.48 549.2,156.36 549.4,156.35 549.6,157.07 549.8,158.03 550,156.68 550.2,156.81 550.4,158.15 550.6,156.26 550.8,157.65 551,157.58 551.2,157.22 551.4,157.45 551.6,158.78 551.8,156.76 552,157.21 552.2,157.26 552.4,157.03 552.6,156.69 552.8,158.3 553,157.56 553.2,156.5 553.4,157.08 553.6,157.7 553.8,157.71 554,156.72 554.2,157.47 554.4,157.67 554.6,157.76 554.8,157.77 555,156.57 555.2,158.59 555.4,157.71 555.6,158.59 555.8,159.18 556,157.54 556.2,156.97 556.4,158.13 556.6,157.57 556.8,157.44 557,157.13 557.2,158.64 557.4,157.48 557.6,156.97 557.8,157.51 558,157.13 558.2,157.87 558.4,157.57 558.6,157.23 558.8,158.15 559,157.49 559.2,158.25 559.4,158.56 559.6,157.68 559.8,157.54 560,158.02 560.2,158.42 560.4,157.94 560.6,158.03 560.8,157.96 561,158.16 561.2,158.35" fill="none" stroke="#ee9c6a" stroke-width="1.3" stroke-linejoin="round"/>
<rect x="130" y="169.5" width="143" height="45" fill="#fff" stroke="#888888" stroke-width="0.95"/>
<polyline points="136.3,200.31 136.5,200.89 136.7,201.54 136.9,202.14 137.1,202.75 137.3,203.35 137.5,203.89 137.7,204.54 137.9,205.1 138.1,205.87 138.3,206.31 138.5,206.9 138.7,207.59 138.9,208.29 139.1,209 139.3,209.75 139.5,210.49 139.7,211.02 139.9,211.61 140.1,211.87 140.3,212.08 140.5,212.21 140.7,211.81 140.9,211.13 141.1,210.36 141.3,209.47 141.5,208.53 141.7,207.06 141.9,205.81 142.1,204.71 142.3,203.23 142.5,202.16 142.7,201.1 142.9,199.6 143.1,197.94 143.3,196.37 143.5,194.15 143.7,193.21 143.9,191.48 144.1,190.2 144.3,189.69 144.5,189.33 144.7,188.9 144.9,188.59 145.1,188.63 145.3,188.47 145.5,188.65 145.7,188.43 145.9,188.26 146.1,188.44 146.3,188.27 146.5,188.41 146.7,189.21 146.9,189.77 147.1,190.19 147.25,190.71 147.7,171.1 148.15,192.59 148.3,192.15 148.5,192.51 148.7,192.06 148.9,192.3 149.1,191.26 149.3,191.3 149.5,191.51 149.7,191.42 149.9,190.27 150.1,190.66 150.3,190.91 150.5,190.69 150.7,191.49 150.9,190.82 151.1,191.52 151.3,191.36 151.5,192.42 151.7,192.31 151.9,192.55 152.1,192.5 152.3,193.92 152.5,194.01 152.7,194.37 152.9,194.84 153.1,194.92 153.3,194.91 153.5,195.13 153.7,195.36 153.9,196.23 154.1,195.46 154.3,195.8 154.5,195.88 154.7,195.92 154.9,195.78 155.1,194.84 155.3,194.26 155.5,194.36 155.7,194.25 155.9,193.59 156.1,192.91 156.3,192.27 156.5,192.06 156.7,191.54 156.9,191.65 157.1,190.97 157.3,191.18 157.5,191 157.7,191.14 157.9,190.96 158.1,191.69 158.3,191.28 158.45,190.72 158.9,177.8 159.35,190.42 159.5,189.56 159.7,190.65 159.9,190.46 160.1,189.45 160.3,189.35 160.5,189.19 160.7,189.28 160.9,189.29 161.1,189.63 161.3,188.71 161.5,188.98 161.7,188.77 161.9,189.46 162.1,189.3 162.3,189.79 162.5,189.23 162.7,189.89 162.9,190.01 163.1,191.19 163.3,191.17 163.5,191.04 163.7,191.13 163.9,191.57 164.1,191.23 164.3,191.23 164.35,191.59 164.8,184.1 165.25,191.8 165.3,191.36 165.5,191.3 165.7,192 165.9,192.12 166.1,191.8 166.3,191.93 166.5,191.84 166.7,191.85 166.9,191.21 167.1,191.62 167.3,191.84 167.5,191.5 167.7,191.61 167.9,191.48 168.1,191.67 168.3,192.13 168.5,191.64 168.7,191.72 168.9,192.07 169.1,191.97 169.3,192.33 169.5,190.78 169.7,191.89 169.9,191.3 170.1,191.49 170.3,191.73 170.5,191.78 170.55,191.34 171,189.5 171.45,191.4 171.5,191.36 171.7,191.85 171.9,191.43 172.1,192.7 172.3,192.41 172.5,193.09 172.7,192.39 172.9,192.46 173.1,192.92 173.3,193.39 173.5,193.06 173.7,193.69 173.9,193.75 174.1,194.64 174.3,193.87 174.5,194.76 174.7,194.2 174.9,194.23 175.1,194.5 175.3,194.46 175.5,195.2 175.7,195.76 175.9,195.56 176.1,195.94 176.3,196.55 176.5,196.13 176.7,196.27 176.9,196.23 177.1,195.81 177.25,196.62 177.7,191.3 178.15,197.19 178.3,197.23 178.5,196.98 178.7,197.57 178.9,197.21 179.1,197.41 179.3,197.52 179.5,197.43 179.7,197.39 179.9,197.06 180.1,197.31 180.3,196.37 180.5,197.2 180.7,196.65 180.9,197.62 181.1,197.59 181.3,196.02 181.5,196.88 181.7,196.64 181.9,196.11 182.1,196.72 182.3,196.14 182.5,195.42 182.7,195.99 182.9,195.93 183.1,195.92 183.3,195.15 183.5,195.85 183.7,195.72 183.9,194.65 184.1,194.67 184.3,194.73 184.5,194.27 184.7,195.13 184.9,194.17 185.1,193.35 185.3,193.22 185.5,193.33 185.7,194.22 185.9,192.81 186.1,192.73 186.3,192.7 186.5,192.23 186.7,193.16 186.9,191.63 187.1,192.08 187.3,191.63 187.5,191.69 187.7,190.64 187.9,191.9 188.1,190.8 188.3,190.7 188.5,190.05 188.7,189.97 188.9,190.44 189.1,190.47 189.3,190.18 189.5,190.24 189.7,189.83 189.9,189.32 190.1,189.57 190.3,189.3 190.5,188.8 190.7,189.07 190.9,189.22 191.1,188.57 191.3,188.15 191.5,188.58 191.7,189.08 191.9,187.91 192.1,187.89 192.3,187.8 192.5,188.44 192.7,186.82 192.9,187.92 193.1,188.32 193.3,187.28 193.5,188.48 193.7,188 193.9,187.47 194.1,187.9 194.3,187.05 194.5,187.62 194.7,188.94 194.9,187.6 195.1,189.13 195.3,188.21 195.5,188.89 195.7,188.5 195.9,187.41 196.1,188.42 196.3,188.95 196.5,188.38 196.7,188.41 196.9,189.47 197.1,189.08 197.3,188.67 197.5,189.36 197.7,190.35 197.9,189.79 198.1,190.71 198.3,191.19 198.5,190.54 198.7,190.07 198.9,190.13 199.1,190.98 199.3,191.63 199.5,191.45 199.7,191.76 199.9,191.4 200.1,192 200.3,191.78 200.5,192.07 200.7,191.76 200.9,191.83 201.1,192.65 201.3,192.52 201.5,192.82 201.7,193.91 201.9,193.67 202.1,195.5 202.3,194.55 202.5,193.81 202.7,194.71 202.9,194.6 203.1,194.14 203.3,195.25 203.5,194.33 203.7,193.17 203.9,195.43 204.1,194.76 204.3,196.04 204.5,194.96 204.7,194.77 204.9,196.4 205.1,195.04 205.3,195.85 205.5,196.65 205.7,195.99 205.9,195.98 206.1,196.16 206.3,196.66 206.5,195.82 206.7,196.68 206.9,196.73 207.1,197.78 207.3,196.34 207.5,196.07 207.7,197.05 207.9,196.45 208.1,196.88 208.3,196.82 208.5,197.43 208.7,196.42 208.9,196.74 209.1,195.36 209.3,196.29 209.5,197.65 209.7,196.37 209.9,196.33 210.1,196 210.3,196.96 210.5,196.68 210.7,195.85 210.9,196.83 211.1,196.52 211.3,196.72 211.5,195.85 211.7,197.11 211.9,196.26 212.1,195.86 212.3,195.54 212.5,195.59 212.7,196.11 212.9,195.37 213.1,196.03 213.3,195.64 213.5,195.97 213.7,195.55 213.9,194.95 214.1,193.79 214.3,194.95 214.5,195.12 214.7,194.67 214.9,194.8 215.1,194.12 215.3,194.08 215.5,193.68 215.7,194.92 215.9,194.15 216.1,193.7 216.3,193.14 216.5,193.74 216.7,194.57 216.9,193.92 217.1,193.15 217.3,194.31 217.5,194.22 217.7,193.87 217.9,193.67 218.1,193.8 218.3,193.35 218.5,193.4 218.7,192.42 218.9,193.65 219.1,192.83 219.3,193.79 219.5,191.36 219.7,192.87 219.9,192.96 220.1,192.13 220.3,192.52 220.5,192.63 220.7,192.48 220.9,191.78 221.1,191.96 221.3,192.6 221.5,192.72 221.7,192 221.9,191.97 222.1,192.03 222.3,192.51 222.5,191.29 222.7,191.13 222.9,191.99 223.1,191.28 223.3,191.61 223.5,192.02 223.7,192.28 223.9,191.4 224.1,192.53 224.3,191.06 224.5,192.46 224.7,191.26 224.9,191.48 225.1,192.65 225.3,192.08 225.5,191.9 225.7,192.16 225.9,192.75 226.1,192.49 226.3,192.56 226.5,193.25 226.7,192.26 226.9,192.46 227.1,192.48 227.3,193.53 227.5,193.47 227.7,193.69 227.9,192.96 228.1,192.93 228.3,193.57 228.5,192.88 228.7,193.66 228.9,193.66 229.1,192.87 229.3,193.29 229.5,193.33 229.7,194.5 229.9,195.07 230.1,193.53 230.3,193.67 230.5,192.36 230.7,193.91 230.9,193.85 231.1,193.28 231.3,194.45 231.5,193.1 231.7,193.97 231.9,194.24 232.1,193.47 232.3,194.78 232.5,194.95 232.7,193.53 232.9,193.56 233.1,194.81 233.3,194.46 233.5,193.79 233.7,194.36 233.9,194.5 234.1,194.5 234.3,195.09 234.5,194.83 234.7,195.66 234.9,195.42 235.1,194.99 235.3,195.22 235.5,195.35 235.7,194.96 235.9,193.76 236.1,194.99 236.3,194.48 236.5,195.38 236.7,194.42 236.9,194.64 237.1,194.48 237.3,195.25 237.5,194.29 237.7,193.97 237.9,194.27 238.1,193.76 238.3,194.07 238.5,193.92 238.7,194.03 238.9,194.98 239.1,193.51 239.3,193.72 239.5,193.52 239.7,194 239.9,192.81 240.1,193.06 240.3,193.4 240.5,193.71 240.7,193.3 240.9,192.97 241.1,192.7 241.3,193.5 241.5,194.03 241.7,193.31 241.9,193.19 242.1,193.31 242.3,192.43 242.5,192.8 242.7,192.8 242.9,193.12 243.1,192.9 243.3,192.15 243.5,193.57 243.7,193.9 243.9,192.68 244.1,193.07 244.3,192.97 244.5,193.27 244.7,191.86 244.9,193.75 245.1,192.45 245.3,193.5 245.5,192.76 245.7,192.45 245.9,192.59 246.1,193.22 246.3,192.11 246.5,192.4 246.7,192.32 246.9,191.54 247.1,193.39 247.3,192.93 247.5,192.54 247.7,193.26 247.9,191.92 248.1,192.45 248.3,193.55 248.5,193.06 248.7,191.05 248.9,190.34 249.1,191.74 249.3,193.02 249.5,192.04 249.7,192.17 249.9,192.65 250.1,191.69 250.3,192.34 250.5,192.67 250.7,192.43 250.9,192.34 251.1,191.68 251.3,192.34 251.5,191.7 251.7,192.75 251.9,193.5 252.1,191.38 252.3,190.43 252.5,191.48 252.7,191.94 252.9,192.32 253.1,192.29 253.3,191.07 253.5,191.02 253.7,192.27 253.9,190.74 254.1,192.07 254.3,191.19 254.5,191.78 254.7,191.7 254.9,191.7 255.1,191.69 255.3,190.5 255.5,191.27 255.7,191.06 255.9,191.21 256.1,191.76 256.3,190.77 256.5,190.46 256.7,190.42 256.9,190.66 257.1,191.3 257.3,190.29 257.5,191.52 257.7,190.95 257.9,190.6 258.1,189.88 258.3,190.87 258.5,191.15 258.7,189.58 258.9,191.46 259.1,191.75 259.3,190.92 259.5,191.03 259.7,192.27 259.9,191.53 260.1,190.18 260.3,190.77 260.5,190.71 260.7,190.74 260.9,189.35 261.1,191.39 261.3,190.53 261.5,191.09 261.7,190.94 261.9,191.64 262.1,190.94 262.3,190.67 262.5,191.59 262.7,192.21 262.9,191.16 263.1,192.31 263.3,191.67 263.5,191.23 263.7,192.63 263.9,191.19 264.1,192.45 264.3,191.55 264.5,192.25 264.7,191.24 264.9,191.59 265.1,192.91 265.3,192.43 265.5,192.42 265.7,192.21 265.9,192.88 266.1,191.78 266.3,192.06 266.5,192.78 266.7,192.44 266.9,192.63 267.1,193.15 267.3,193.21" fill="none" stroke="#ee9c6a" stroke-width="1.3" stroke-linejoin="round"/>
<rect x="156.4" y="266.6" width="143.1" height="44.5" fill="#fff" stroke="#888888" stroke-width="0.95"/>
<polyline points="163.2,284.9 163.35,285.66 163.5,286.47 163.65,287.28 163.8,288.09 163.95,288.98 164.1,289.86 164.25,290.79 164.4,291.68 164.55,292.68 164.7,293.65 164.85,294.69 165,295.65 165.15,296.68 165.3,297.64 165.45,298.99 165.6,300.21 165.75,301.9 165.9,303.41 166.05,304.92 166.2,306.32 166.35,307.48 166.5,308.38 166.65,308.76 166.8,308.87 166.95,308.47 167.1,308.3 167.25,307.81 167.4,307.4 167.55,306.53 167.7,305.94 167.85,305.17 168,304.13 168.15,303.4 168.3,302.32 168.45,301.35 168.6,300.26 168.75,298.95 168.9,297.84 169.05,296.78 169.2,295.76 169.35,294.66 169.5,293.32 169.65,291.93 169.8,290.29 169.95,288.55 170.1,286.72 170.25,284.83 170.4,283.23 170.55,281.07 170.7,279.41 170.85,278.02 171,276.56 171.15,275.69 171.3,275.06 171.45,274.53 171.6,273.58 171.75,273.41 171.9,272.56 172.05,272.11 172.2,271.73 172.35,271.26 172.5,270.93 172.65,270.44 172.8,270.12 172.95,269.97 173.1,269.59 173.25,269.93 173.4,269.57 173.55,269.54 173.7,270.3 173.85,270.05 174,270.05 174.15,270.92 174.3,270.78 174.45,271.39 174.6,271.36 174.75,271.86 174.9,271.96 175.05,272.33 175.2,272.97 175.35,273.62 175.5,274.27 175.65,275.1 175.8,274.75 175.95,275.68 176.1,275.73 176.25,276.26 176.4,276.34 176.55,276.74 176.7,277.34 176.85,277.68 177,278.45 177.15,278.75 177.3,279.75 177.45,279.96 177.6,280.47 177.75,281.25 177.9,281.59 178.05,281.95 178.2,282.44 178.35,282.93 178.5,283.76 178.65,284.15 178.8,284.49 178.95,285.06 179.1,285.08 179.25,285.79 179.4,285.58 179.55,286.77 179.7,286.78 179.85,287.2 180,287.72 180.15,287.9 180.3,288.18 180.45,288.96 180.6,288.89 180.75,288.78 180.9,289.37 181.05,288.74 181.2,289.81 181.35,289.04 181.5,288.82 181.65,289.16 181.8,288.64 181.95,287.37 182.1,286.92 182.25,286.41 182.4,285.93 182.55,284.59 182.7,284 182.85,283.73 183,282.78 183.15,282.41 183.3,281.89 183.45,280.86 183.6,280.6 183.75,279.56 183.9,280.09 184.05,280.33 184.2,279.02 184.35,279.57 184.5,279.13 184.65,278.38 184.8,278.07 184.95,277.79 185.1,277.12 185.25,277.08 185.4,276.93 185.55,276.98 185.7,276.87 185.85,276.06 186,276.6 186.15,275.83 186.3,276.04 186.45,276.26 186.6,276.12 186.75,276.13 186.9,276.4 187.05,276.14 187.2,276.23 187.35,276.59 187.5,277.31 187.65,277.01 187.8,278.16 187.95,277.58 188.1,276.29 188.25,277.73 188.4,278.99 188.55,278.42 188.7,278.44 188.85,278.45 189,279.78 189.15,279.84 189.3,279.88 189.45,279.95 189.6,280.65 189.75,280.49 189.9,279.56 190.05,280.73 190.2,280.53 190.35,280.5 190.5,281.08 190.65,280.8 190.8,279.3 190.95,281.86 191.1,281.68 191.25,281.14 191.4,281.1 191.55,281.53 191.7,280.77 191.85,281.77 192,281.56 192.15,281.58 192.3,281.33 192.45,281.56 192.6,282.7 192.75,282.93 192.9,282.52 193.05,282.28 193.2,281.86 193.35,282.91 193.5,283.54 193.65,281.64 193.8,283.44 193.95,281.45 194.1,282.67 194.25,283.21 194.4,282.18 194.55,282.16 194.7,283.33 194.85,283.85 195,283.05 195.15,284.31 195.3,282.99 195.45,284.73 195.6,283.72 195.75,283.86 195.9,284.18 196.05,284.05 196.2,285.15 196.35,285.46 196.5,284.39 196.65,283.96 196.8,283.32 196.95,283.68 197.1,284.27 197.25,284.26 197.4,284.37 197.55,284.47 197.7,284.89 197.85,283.63 198,283.94 198.15,285.58 198.3,285.46 198.45,284.53 198.6,285.97 198.75,284.6 198.9,285.01 199.05,283.93 199.2,286.04 199.35,285.51 199.5,286.46 199.65,286.33 199.8,286.01 199.95,286.23 200.1,287.21 200.25,286.33 200.4,286.53 200.55,286.9 200.7,287.68 200.85,287.98 201,288.99 201.15,287.59 201.3,288.89 201.45,287.54 201.6,288.76 201.75,288.57 201.9,290.09 202.05,289.35 202.2,288.65 202.35,289.67 202.5,289.64 202.65,289.23 202.8,289.38 202.95,288.96 203.1,292.26 203.25,290.17 203.4,291.03 203.55,289.33 203.7,289.54 203.85,290.49 204,290.64 204.15,291.62 204.3,290.17 204.45,291.67 204.6,292.67 204.75,290.63 204.9,292.39 205.05,290.83 205.2,292.11 205.35,292.23 205.5,293.56 205.65,291.48 205.8,292.33 205.95,293.18 206.1,291.26 206.25,292.35 206.4,291.62 206.55,291.8 206.7,293.05 206.85,293.06 207,294.7 207.15,293.58 207.3,293.42 207.45,292.02 207.6,291.76 207.75,291.99 207.9,289.68 208.05,292.94 208.2,290.68 208.35,290.1 208.5,290.37 208.65,291.28 208.8,291.32 208.95,289.61 209.1,290.03 209.25,289.29 209.4,288.17 209.55,288.87 209.7,288.43 209.85,286.76 210,288.73 210.15,286.11 210.3,287.37 210.45,285.96 210.6,285.87 210.75,285.69 210.9,286.63 211.05,284.67 211.2,285.3 211.35,286.49 211.5,284.26 211.65,284.51 211.8,284.77 211.95,283.37 212.1,283.94 212.25,282.63 212.4,283.45 212.55,282.57 212.7,281.38 212.85,283.03 213,281.43 213.15,280.95 213.3,280.1 213.45,280.18 213.6,280.2 213.75,280.15 213.9,280.67 214.05,278.4 214.2,278.99 214.35,280.08 214.5,279.04 214.65,279.04 214.8,279.84 214.95,278.61 215.1,278.53 215.25,277.92 215.4,279.23 215.55,278.45 215.7,276.8 215.85,277.68 216,276.1 216.15,277.77 216.3,277.26 216.45,276.41 216.6,276.05 216.75,274.75 216.9,276.71 217.05,275.84 217.2,275.55 217.35,276.27 217.5,275.02 217.65,274.97 217.8,274.78 217.95,274.15 218.1,277.13 218.25,274.94 218.4,274.75 218.55,275.71 218.7,272.4 218.85,274.89 219,274.91 219.15,274.11 219.3,275.27 219.45,273.27 219.6,274.9 219.75,275.61 219.9,273.12 220.05,273.74 220.2,274.78 220.35,274.89 220.5,274.38 220.65,275.21 220.8,275.13 220.95,273.82 221.1,274.87 221.25,273.89 221.4,273.23 221.55,272.95 221.7,275.9 221.85,274.94 222,276.77 222.15,273.83 222.3,274.82 222.45,275.46 222.6,275.07 222.75,275.68 222.9,275.4 223.05,274.75 223.2,273.24 223.35,274.54 223.5,277.07 223.65,276.32 223.8,277.03 223.95,275.38 224.1,275.93 224.25,275.5 224.4,276.92 224.55,276.85 224.7,277.48 224.85,279.01 225,276.78 225.15,278.58 225.3,276.78 225.45,279.52 225.6,278.29 225.75,278.94 225.9,279.43 226.05,281.22 226.2,279.81 226.35,279.6 226.5,279.14 226.65,280.86 226.8,279.92 226.95,280.47 227.1,281.14 227.25,282.02 227.4,280.72 227.55,282.33 227.7,283.64 227.85,280.33 228,283.51 228.15,284.51 228.3,281.71 228.45,283.15 228.6,281.13 228.75,283.13 228.9,282.54 229.05,283.36 229.2,282.14 229.35,282.36 229.5,282.9 229.65,282.71 229.8,282.93 229.95,283.5 230.1,282.57 230.25,283.77 230.4,284.59 230.55,281.46 230.7,284.44 230.85,283.43 231,283.06 231.15,282.86 231.3,283.5 231.45,283.68 231.6,285.02 231.75,283.16 231.9,285.95 232.05,283.76 232.2,285.61 232.35,286.15 232.5,283.38 232.65,286.22 232.8,287.64 232.95,284.47 233.1,285.79 233.25,284.95 233.4,285.26 233.55,284.97 233.7,284.61 233.85,286.2 234,286.44 234.15,285.36 234.3,287.32 234.45,286.82 234.6,286.35 234.75,284.54 234.9,287.96 235.05,287.24 235.2,282.72 235.35,284.09 235.5,284.93 235.65,286.81 235.8,287.23 235.95,285.2 236.1,285.91 236.25,286.51 236.4,283.83 236.55,286.32 236.7,285.06 236.85,285.68 237,285.3 237.15,283.68 237.3,283.85 237.45,285.2 237.6,285.23 237.75,284.59 237.9,286.34 238.05,284.25 238.2,282.93 238.35,284.04 238.5,284.17 238.65,284.11 238.8,285.83 238.95,284.78 239.1,285.44 239.25,284.7 239.4,283.44 239.55,285.07 239.7,283.06 239.85,283.68 240,281.73 240.15,283.23 240.3,282.49 240.45,283.42 240.6,285.46 240.75,286.2 240.9,284.09 241.05,282.44 241.2,283.64 241.35,282.65 241.5,281.28 241.65,282.01 241.8,281.62 241.95,280.98 242.1,283.92 242.25,280.86 242.4,280.82 242.55,282.57 242.7,280.29 242.85,279.47 243,279.82 243.15,281.8 243.3,281.53 243.45,281.3 243.6,279.98 243.75,279.16 243.9,281.96 244.05,278.09 244.2,279.96 244.35,278.07 244.5,279.45 244.65,279.77 244.8,281.92 244.95,275.15 245.1,281.98 245.25,278.22 245.4,280.08 245.55,280.85 245.7,278.18 245.85,279.24 246,280.15 246.15,279.06 246.3,277.99 246.45,279.5 246.6,279.33 246.75,276.57 246.9,281.39 247.05,279.45 247.2,274.92 247.35,277.63 247.5,282.01 247.65,281.8 247.8,279.55 247.95,276.19 248.1,278.72 248.25,281.02 248.4,279.9 248.55,278.68 248.7,278.02 248.85,280.83 249,279.06 249.15,280.08 249.3,280.45 249.45,282.57 249.6,280.05 249.75,280.26 249.9,276.67 250.05,281.97 250.2,281.65 250.35,280.11 250.5,276.12 250.65,279.29 250.8,280.53 250.95,284.28 251.1,281.64 251.25,282.1 251.4,282.24 251.55,283.26 251.7,278.85 251.85,279.44 252,278.92 252.15,280.63 252.3,280.59 252.45,281.51 252.6,279.54 252.75,281.68 252.9,280.05 253.05,285.61 253.2,280.86 253.35,286.64 253.5,285.07 253.65,279.96 253.8,284.06 253.95,283.53 254.1,279.69 254.25,283.78 254.4,282.61 254.55,283.55 254.7,281.44 254.85,283.03 255,284.03 255.15,283.05 255.3,282.37 255.45,283.33 255.6,281.91 255.75,284.49 255.9,279.17 256.05,286.89 256.2,284.29 256.35,285.16 256.5,285.98 256.65,282.13 256.8,288.84 256.95,282.52 257.1,285.59 257.25,285.4 257.4,287.33 257.55,284.89 257.7,282.29 257.85,285.62 258,280.37 258.15,284.7 258.3,284.24 258.45,288.11 258.6,284.65 258.75,284.35 258.9,283.8 259.05,283.64 259.2,284.25 259.35,286.48 259.5,282.84 259.65,285 259.8,282.62 259.95,285.13 260.1,285.8 260.25,283.14 260.4,284.43 260.55,285.76 260.7,287.07 260.85,287.45 261,285.42 261.15,283.73 261.3,282.54 261.45,287.21 261.6,288.43 261.75,286.46 261.9,288.81 262.05,284.91 262.2,285.04 262.35,288.89 262.5,283.88 262.65,287.04 262.8,286.63 262.95,286.19 263.1,289.3 263.25,284.2 263.4,285.09 263.55,281.84 263.7,283.89 263.85,284.95 264,285.21 264.15,285.58 264.3,286.58 264.45,284.67 264.6,282.08 264.75,286.3 264.9,286.83 265.05,283.69 265.2,284.43 265.35,289.5 265.5,288.04 265.65,288.16 265.8,287.33 265.95,286.28 266.1,284.97 266.25,287.13 266.4,285.58 266.55,285.09 266.7,285.95 266.85,285.8 267,287.75 267.15,284.03 267.3,290.97 267.45,283.92 267.6,285.08 267.75,287.84 267.9,284.24 268.05,284.94 268.2,285.97 268.35,279.9 268.5,284.87 268.65,283.93 268.8,285.38 268.95,286.89 269.1,287.17 269.25,288.92 269.4,288.79 269.55,287.95 269.7,285.75 269.85,287.96 270,283.78 270.15,285.61 270.3,288.75 270.45,287.41 270.6,282.91 270.75,284.55 270.9,287.62 271.05,287.02 271.2,287.97 271.35,282.09 271.5,283.11 271.65,285.2 271.8,283.69 271.95,285.64 272.1,285.72 272.25,286.41 272.4,285.41 272.55,286.84 272.7,287.29 272.85,285.98 273,283.11 273.15,288.34 273.3,286.09 273.45,286.51 273.6,285.98 273.75,282.24 273.9,286.81 274.05,284.22 274.2,283.03 274.35,288.27 274.5,284.93 274.65,286.17 274.8,287.43 274.95,288.95 275.1,281.72 275.25,283.96 275.4,286.94 275.55,284.1 275.7,278.61 275.85,285.8 276,285.96 276.15,287.16 276.3,285.95 276.45,284.52 276.6,285.9 276.75,285.36 276.9,284.35 277.05,285.96 277.2,286.17 277.35,283.24 277.5,287.58 277.65,287.15 277.8,287.05 277.95,279.48 278.1,285.6 278.25,285.07 278.4,283.18 278.55,286.56 278.7,282.07 278.85,287.94 279,286.12 279.15,284.19 279.3,288.33 279.45,286.25 279.6,285.97 279.75,282.42 279.9,286.36 280.05,288.26 280.2,287.59 280.35,282.39 280.5,288.2 280.65,288.65 280.8,287 280.95,284.31 281.1,281.87 281.25,283.14 281.4,283.85 281.55,285.69 281.7,286.29 281.85,283.45 282,281.48 282.15,284.14 282.3,282.12 282.45,287.95 282.6,282.31 282.75,286.05 282.9,286.8 283.05,282.82 283.2,287.17 283.35,284.64 283.5,283.19 283.65,282.84 283.8,285.17 283.95,287.29 284.1,280.71 284.25,286.26 284.4,284.56 284.55,283.22 284.7,284.66 284.85,284.87 285,284.76 285.15,286.7 285.3,282.88 285.45,289.3 285.6,286.89 285.75,283.57 285.9,280.59 286.05,284.86 286.2,284 286.35,286.58 286.5,286.54 286.65,289.22 286.8,284.64 286.95,286.72 287.1,283.99 287.25,284.11 287.4,288.41 287.55,284.65 287.7,284.72 287.85,284.16 288,285.71 288.15,286.32 288.3,284.71 288.45,282.39 288.6,285.76 288.75,283.12 288.9,284.18 289.05,285.49 289.2,285.57 289.35,279.71 289.5,288.88 289.65,286.83 289.8,289.43 289.95,290.76 290.1,282.85 290.25,283.7 290.4,285.55 290.55,287.13 290.7,283.8 290.85,284.25 291,287.43 291.15,282.92 291.3,285.44 291.45,287.45 291.6,284.34 291.75,286.73 291.9,284.66 292.05,281.25 292.2,283.65 292.35,284.43 292.5,284.11 292.65,284.93 292.8,285.78 292.95,285.53 293.1,285.26 293.25,283.83 293.4,284.31" fill="none" stroke="#00195a" stroke-width="1.6" stroke-linejoin="round"/>
<rect x="540.3" y="240.4" width="144.3" height="44.1" fill="#fff" stroke="#888888" stroke-width="0.95"/>
<polyline points="547.1,277.4 547.3,278.17 547.5,278.87 547.7,279.49 547.9,280.06 548.1,280.52 548.3,280.93 548.5,281.28 548.7,281.64 548.9,281.93 549.1,282.1 549.3,282.21 549.5,282.35 549.7,282.59 549.9,282.59 550.1,282.53 550.3,282.66 550.5,282.61 550.7,282.65 550.9,282.66 551.1,282.6 551.3,282.34 551.5,281.63 551.7,280.72 551.9,279.8 552.1,278.76 552.3,277.43 552.5,276.57 552.7,275.64 552.9,275.11 553.1,274.65 553.3,274.66 553.5,274.53 553.7,274.4 553.75,274.41 554.2,272.2 554.65,274.1 554.7,274.12 554.9,273.86 555.1,274.15 555.3,274.02 555.5,273.51 555.7,273.79 555.9,273.46 556.1,273.52 556.3,273.38 556.5,272.85 556.7,273 556.9,272.83 557.1,272.92 557.3,272.36 557.5,272.64 557.7,272.2 557.9,272.33 558.1,272.23 558.15,272.41 558.6,254 559.05,272.6 559.1,272.81 559.3,272.87 559.5,272.59 559.7,272.81 559.9,273.29 560.1,273 560.3,273.32 560.5,273.46 560.7,273.83 560.9,273.81 561.1,274.09 561.3,274.43 561.5,274.63 561.7,274.62 561.9,275.3 562.1,274.96 562.3,275.2 562.5,275.38 562.7,276.14 562.9,276 563.1,276.05 563.3,276.22 563.5,276.85 563.7,276.69 563.9,276.85 564.1,277.57 564.3,277.3 564.5,277.72 564.7,277.98 564.9,278.02 565.1,278.26 565.3,278.74 565.5,278.32 565.7,278.16 565.9,278 566.1,278.37 566.3,278.2 566.5,278.19 566.7,277.78 566.9,277.53 567.1,277.19 567.3,276.97 567.5,276.88 567.7,276.45 567.9,276.33 568.1,276.6 568.3,276.01 568.5,275.29 568.7,276.05 568.9,275.51 569.1,274.99 569.3,275.35 569.5,274.96 569.55,274.91 570,245.9 570.45,274.4 570.5,274.69 570.7,274.24 570.9,274.42 571.1,274.84 571.3,273.95 571.5,274.37 571.7,274.21 571.9,273.99 572.1,274 572.15,274.3 572.6,242.2 573.05,274.3 573.1,274.51 573.3,274.39 573.5,274.56 573.7,274.44 573.9,274.44 574.1,274.84 574.3,274.49 574.5,274.34 574.7,274.51 574.9,274.02 575.05,274.3 575.5,265.9 575.95,274.3 576.1,273.86 576.3,274.89 576.5,274.63 576.7,273.98 576.9,274.72 577.1,274.31 577.3,273.74 577.5,274.17 577.55,274.3 578,272.7 578.45,274.3 578.5,274.21 578.7,274.18 578.9,274.01 579.1,274.37 579.3,274.64 579.5,274.5 579.7,274.01 579.9,273.94 580.1,274.35 580.3,274.1 580.5,274.13 580.7,273.81 580.9,274.98 581.1,274.66 581.3,274.07 581.5,274.7 581.55,274.41 582,260.1 582.45,274.52 582.5,274.74 582.7,274.52 582.85,274.58 583.3,260.9 583.75,274.73 583.9,274.46 584.1,275.69 584.3,274.54 584.5,274.77 584.7,275.11 584.9,275.43 585.1,275.79 585.3,275.78 585.5,275.56 585.7,276.23 585.9,276.34 586.1,277.07 586.3,276.6 586.5,276.3 586.7,276.51 586.9,277.43 587.1,276.82 587.3,276.35 587.5,276.94 587.7,277.2 587.9,277.67 588.1,276.98 588.3,277.62 588.45,277.43 588.9,267.2 589.35,277.65 589.5,277.98 589.7,277.84 589.9,278.16 590.1,277.74 590.3,277.78 590.5,277.54 590.7,277.86 590.9,277.85 591.1,278.87 591.3,277.83 591.5,278.35 591.7,278.35 591.9,277.76 592.1,278.15 592.3,276.84 592.5,277.51 592.7,277.62 592.9,276.27 593.1,276.53 593.15,276.89 593.6,273.2 594.05,276.01 594.1,275.77 594.3,276.06 594.5,275.8 594.7,275.4 594.9,275.16 595.1,275.31 595.3,275.77 595.5,275.37 595.7,275.44 595.75,275.19 596.2,270.6 596.65,275.03 596.7,275.06 596.9,274.66 597.1,274.36 597.3,274.98 597.5,274.79 597.65,274.9 598.1,259 598.55,274.82 598.7,275.17 598.9,275.31 599.1,275.11 599.3,274.67 599.5,274.78 599.7,274.99 599.9,274.69 600.1,275.02 600.3,275.26 600.5,274.52 600.7,274.16 600.9,275.31 601.1,274.87 601.3,275.15 601.5,274.37 601.7,275.57 601.9,275.2 602.1,274.88 602.3,274.8 602.5,274.99 602.7,274.9 602.9,274.86 603.1,274.54 603.3,275.49 603.45,274.99 603.9,260.6 604.35,274.97 604.5,274.81 604.7,274.78 604.9,274.86 605.1,274.37 605.3,275.01 605.5,274.3 605.7,274.12 605.9,274.03 606.1,274.34 606.3,274.47 606.5,273.83 606.7,273.36 606.85,273.9 607.3,265.9 607.75,273.57 607.9,273.27 608.1,273.7 608.3,273.87 608.5,273.42 608.7,273.9 608.9,274.39 609.1,273.47 609.3,273.11 609.5,273.18 609.7,273.08 609.9,273.43 610.1,273.44 610.3,273.24 610.5,274.07 610.7,272.81 610.9,273.4 611.1,274.87 611.3,274.52 611.5,274.36 611.7,274.4 611.9,275.02 612.1,274.56 612.3,274.45 612.5,274 612.7,274.62 612.9,274.47 613.1,274.63 613.3,274.78 613.5,275.22 613.7,275.26 613.9,275.93 614.1,275.13 614.3,275.77 614.5,276.77 614.7,276.1 614.9,276.69 615.1,276.73 615.3,276.86 615.5,276.62 615.7,275.7 615.9,276.18 616.1,276.12 616.3,275.61 616.5,276.07 616.7,275.72 616.9,275.52 617.1,276.33 617.3,276.21 617.5,275.9 617.7,275.77 617.9,275.93 618.1,275.98 618.3,275.95 618.5,276.09 618.7,275.89 618.9,276.24 619.1,276.27 619.3,276.17 619.5,275.69 619.7,275.69 619.9,276.13 620.1,275.82 620.3,275.86 620.5,274.73 620.7,274.61 620.9,275.95 621.1,275.92 621.3,276.36 621.5,276.02 621.7,275.75 621.75,275.64 622.2,269.8 622.65,275.39 622.7,275.6 622.9,275.41 623.1,275.38 623.3,275.59 623.5,274.91 623.7,274.89 623.9,274.62 624.1,274.77 624.3,275.63 624.5,274.66 624.7,275.3 624.9,275.09 625.1,275 625.3,274.98 625.5,274.12 625.7,274.71 625.9,275.23 625.95,274.51 626.4,268.1 626.85,274.4 626.9,273.91 627.1,275.1 627.3,274.19 627.5,273.64 627.7,275.13 627.9,274.74 628.1,274.52 628.3,274.51 628.5,274.1 628.7,274.14 628.9,274.55 629.1,274.63 629.25,274.2 629.7,270.8 630.15,274.14 630.3,274.78 630.5,273.96 630.7,273.89 630.9,274.65 631.1,274.4 631.3,274.37 631.5,273.45 631.7,273.86 631.9,273.78 631.95,274 632.4,266.7 632.85,273.91 632.9,274.1 633.1,273.35 633.3,273.85 633.5,274.44 633.7,273.11 633.9,273.93 634.1,274.08 634.3,273.43 634.5,274.08 634.7,273.54 634.9,274.22 635.1,273.88 635.3,273.73 635.5,274.51 635.55,273.6 636,271.5 636.45,273.53 636.5,273.9 636.7,273.92 636.9,273.48 637.1,273.85 637.3,273.02 637.5,273.6 637.7,272.99 637.9,273.68 638.1,273.34 638.3,273.3 638.5,273.65 638.7,274.49 638.9,273.27 639.1,273.51 639.3,274.32 639.5,273.71 639.7,274.76 639.9,274.13 640.1,274.14 640.3,274.33 640.5,275.02 640.7,274.59 640.9,274.59 641.1,274.53 641.3,273.77 641.5,274.13 641.7,275.24 641.9,274.98 642.1,274.87 642.3,274.96 642.5,274.44 642.7,274.85 642.9,274.29 643.1,274.87 643.3,274.36 643.5,274.58 643.7,274.86 643.9,274.49 644.1,274.91 644.3,274.8 644.5,274.73 644.7,275.13 644.9,273.84 645.1,273.75 645.3,274.72 645.5,274.83 645.7,275.28 645.9,274.68 646.1,274.68 646.3,273.88 646.5,274.59 646.7,274.53 646.9,273.72 647.1,273.77 647.3,274.1 647.5,274.26 647.7,272.79 647.9,274.14 648.1,274.21 648.3,274.02 648.5,274.23 648.7,274.33 648.9,273.7 649.1,274.38 649.3,274.14 649.5,273.88 649.7,274.47 649.9,275.12 650.1,273.87 650.3,273.87 650.5,273.95 650.7,275.68 650.9,274.77 651.1,274.95 651.3,274.71 651.5,274.73 651.7,274.33 651.9,275.41 652.1,275.53 652.3,274.6 652.5,275.09 652.7,275.29 652.9,275.67 653.1,275.83 653.3,276.27 653.5,276.4 653.7,276.28 653.9,276.4 654.1,275.27 654.3,275.53 654.5,276.28 654.7,275.87 654.9,275.72 655.1,274.79 655.3,274.81 655.5,275.94 655.7,275.72 655.9,275.39 656.1,275.29 656.3,274.65 656.5,275.55 656.7,275.79 656.9,276.01 657.1,275.24 657.3,275.08 657.5,274.62 657.7,275.61 657.9,275.78 658.1,274.68 658.3,275.04 658.5,274.9 658.7,274.56 658.9,273.65 659.1,274.57 659.3,274.97 659.5,274.02 659.7,274.26 659.9,273.12 660.1,275.14 660.3,274.76 660.5,274.52 660.7,274.35 660.9,274.15 661.1,274.37 661.3,274.24 661.5,274.23 661.7,274.3 661.9,274.34 662.1,274.95 662.3,273.57 662.5,274.31 662.7,273.88 662.9,273.62 662.95,274.13 663.4,270.3 663.85,274 663.9,274.2 664.1,273.47 664.3,273.95 664.5,273.87 664.7,274.24 664.9,274.31 665.1,273.44 665.3,274.21 665.5,273.73 665.7,273.8 665.9,273.63 666.1,274.04 666.3,273.12 666.5,273.76 666.7,274.15 666.9,273.47 667.1,274.48 667.3,273.21 667.5,273.61 667.7,273.27 667.9,273.18 668.1,272.93 668.3,273.16 668.5,273.35 668.7,272.98 668.9,273.71 669.1,273.97 669.3,272.57 669.5,273.61 669.7,273.29 669.9,273.29 670.1,274.26 670.3,273.67 670.5,273.26 670.7,273.17 670.9,272.1 671.1,273.4 671.3,272.7 671.5,273.11 671.7,273.06 671.9,273.44 672.1,273.92 672.3,273.44 672.5,273.57 672.7,272.9 672.9,273.21 673.1,273.36 673.3,272.38 673.5,273.96 673.7,272.73 673.9,272.5 674.1,273.82 674.3,274.06 674.5,272.82 674.7,272.88 674.9,274.58 675.1,273.26 675.3,272.35 675.5,272.99 675.7,274.2 675.9,273.64 676.1,273.73 676.3,274.01 676.5,273.84 676.7,273.48 676.9,273.01 677.1,274.04 677.3,273.46 677.5,274.06 677.7,275.01 677.9,274.59 678.1,274.51 678.3,274.66" fill="none" stroke="#00195a" stroke-width="1.5" stroke-linejoin="round"/>
<rect x="513.8" y="301.4" width="144.5" height="44.4" fill="#fff" stroke="#888888" stroke-width="0.95"/>
<polyline points="520.3,330.21 520.5,331.99 520.7,333.55 520.9,335.04 521.1,336.37 521.3,337.56 521.5,338.59 521.7,339.53 521.9,340.3 522.1,341.01 522.3,341.6 522.5,342.05 522.7,342.48 522.9,342.89 523.1,343.11 523.3,343.44 523.5,343.6 523.7,343.76 523.9,343.72 524.1,343.86 524.3,343.72 524.5,343.73 524.7,343.81 524.9,343.5 525.1,342.45 525.3,341.08 525.5,339.57 525.7,337.49 525.9,335.59 526.1,333.36 526.3,331.27 526.5,329.34 526.7,327.79 526.9,326.34 527.1,325.19 527.3,323.66 527.5,322.37 527.7,321.01 527.9,319.94 528.1,318.68 528.3,317.47 528.5,316.94 528.7,315.78 528.9,315.17 529.1,314.81 529.3,314.77 529.5,314.25 529.7,314.19 529.9,313.91 530.1,313.49 530.3,313.77 530.5,313.74 530.7,313.46 530.9,313.51 531.1,313.34 531.3,313.54 531.45,314.05 531.9,303.2 532.35,315.62 532.5,315.88 532.7,316.3 532.9,316.81 533.1,316.53 533.3,317.32 533.5,317.04 533.7,317.94 533.9,318.24 534.1,318.42 534.3,318.66 534.5,319.29 534.7,319.59 534.9,320.12 535.1,320.26 535.3,321.09 535.5,321.18 535.7,321.95 535.9,322.53 536.1,323.63 536.3,323.5 536.5,324.47 536.7,325.58 536.9,325.67 537.1,326.09 537.3,327.09 537.5,327.4 537.7,328.16 537.9,327.94 538.1,328.52 538.3,328.8 538.5,328.91 538.7,328.05 538.9,328.58 539.1,327.38 539.3,326.64 539.5,326.22 539.7,325.94 539.9,325.08 540.1,324.65 540.3,323.98 540.5,323.26 540.7,322.46 540.9,322.66 541.1,320.82 541.3,320.61 541.5,320.67 541.7,320.01 541.9,319.16 542.1,319.42 542.25,319.43 542.7,313.2 543.15,318.14 543.3,317.82 543.5,317.93 543.7,317.4 543.9,317.88 544.1,317.57 544.3,317.98 544.5,317.74 544.7,318.28 544.9,318.25 544.95,317.96 545.4,313.2 545.85,318.21 545.9,318.01 546.1,318.43 546.3,318.45 546.5,318.47 546.7,318.8 546.9,318.74 547.1,318.78 547.3,318.36 547.5,319.43 547.65,318.85 548.1,316.2 548.55,319.3 548.7,319.45 548.9,319.52 549.1,319.29 549.3,319.43 549.5,319.67 549.7,319.75 549.9,319.48 550.1,320.82 550.3,319.58 550.5,319.87 550.7,320.94 550.9,319.75 551.1,320.3 551.3,320.26 551.5,319.92 551.7,319.44 551.9,319.39 552.1,320 552.3,320.16 552.5,319.16 552.7,320.06 552.9,319.74 553.1,320.35 553.3,320.07 553.5,319.68 553.7,319.83 553.9,320.02 554.1,320.54 554.3,321.21 554.5,320.15 554.7,320.06 554.9,320.32 555.1,320.12 555.25,320.16 555.7,318.4 556.15,320.81 556.3,321.36 556.5,321.23 556.7,322.02 556.9,322.01 557.1,321.8 557.3,322.78 557.5,321.84 557.7,323 557.9,323.5 558.1,322.84 558.3,323.11 558.5,323.72 558.7,324.12 558.9,323.91 559.1,324.03 559.3,324.51 559.5,324.45 559.7,324.05 559.9,324.68 560.1,324.97 560.3,324.56 560.5,325.57 560.7,325.3 560.9,326.13 561.1,325.41 561.3,325.86 561.35,326.24 561.8,324.8 562.25,327.27 562.3,328.02 562.5,328.04 562.7,328.3 562.9,327.46 563.1,328.57 563.3,328.44 563.5,328.71 563.7,328.49 563.9,329.71 564.1,329.29 564.3,328.61 564.5,329.46 564.7,329.17 564.9,328.69 565.1,328.93 565.3,328.63 565.5,327.85 565.7,328.06 565.9,328.8 566.1,328.57 566.3,328.37 566.5,327.56 566.7,327.63 566.9,327.73 567.1,327.81 567.3,326.94 567.5,326.64 567.7,327.41 567.9,326.73 568.1,326.33 568.3,325.95 568.5,325.72 568.7,326.42 568.9,325.82 569.1,324.84 569.3,324.09 569.5,325.01 569.7,324.56 569.9,323.98 570.1,323.4 570.3,321.76 570.5,321.63 570.7,322.07 570.9,321.31 571.1,321.21 571.3,320.53 571.5,320.17 571.7,320.47 571.9,319.82 572.1,319.81 572.3,319.73 572.5,319.53 572.7,319.76 572.9,319.67 573.1,318.23 573.3,318.55 573.5,318.19 573.7,318.66 573.9,317.65 574.1,318.33 574.3,318.13 574.5,317.92 574.7,317.04 574.9,317.25 575.1,316.7 575.3,317.26 575.5,317.4 575.7,316.12 575.9,316.34 576.1,316.55 576.3,316.29 576.5,317.16 576.7,316.32 576.9,316.44 577.1,315.75 577.3,316.97 577.5,316.29 577.7,316.57 577.9,316.24 578.1,315.22 578.3,315.51 578.5,315.73 578.7,316.66 578.9,316.3 579.1,316.87 579.3,316.94 579.5,317.08 579.7,317.56 579.9,317.38 580.1,316.68 580.3,317.34 580.5,318.67 580.7,317.54 580.9,318.92 581.1,319.26 581.3,318.37 581.5,319.02 581.7,318.36 581.9,319.6 582.1,319.02 582.3,318.93 582.5,319.57 582.7,319.73 582.9,319.87 583.1,320.46 583.3,320.49 583.5,320.46 583.7,321.48 583.9,322.43 584.1,321.49 584.3,321.33 584.5,321.4 584.7,322.41 584.9,322.2 585.1,322.55 585.3,321.75 585.5,322.38 585.7,322.55 585.9,323.79 586.1,323.35 586.3,322.4 586.5,324.04 586.7,324.52 586.9,324.75 587.1,322.82 587.3,324.47 587.5,324.96 587.7,325.01 587.9,324.73 588.1,324.08 588.3,324.92 588.5,325.12 588.7,325.71 588.9,325.88 589.1,325.55 589.3,326.22 589.5,325.35 589.7,325.63 589.9,326.05 590.1,326.44 590.3,326.04 590.5,326.89 590.7,326.49 590.9,325.8 591.1,326.34 591.3,325.83 591.5,325.78 591.7,325.52 591.9,326.98 592.1,326.7 592.3,325.35 592.5,326.74 592.7,326.63 592.9,325.89 593.1,326.3 593.3,327.17 593.5,326.08 593.7,326.1 593.9,326.41 594.1,325.2 594.3,325.02 594.5,324.87 594.7,325.51 594.9,325.94 595.1,324.94 595.3,324.59 595.5,325.36 595.7,324.97 595.9,325.42 596.1,324.94 596.3,324.83 596.5,324.8 596.7,324.77 596.9,324.15 597.1,323.97 597.3,325.35 597.5,326.07 597.7,324.91 597.9,323.33 598.1,324.14 598.3,324.67 598.5,323.03 598.7,323.51 598.9,323.41 599.1,322.97 599.3,322.85 599.5,323.69 599.7,322.7 599.9,322.64 600.1,323.52 600.3,321.92 600.5,321.15 600.7,322.37 600.9,322.95 601.1,321.78 601.3,321.68 601.5,320.65 601.7,320.7 601.9,321.9 602.1,321.68 602.3,321.22 602.5,320.48 602.7,320.12 602.9,320.14 603.1,320.01 603.3,320.94 603.5,320.11 603.7,320.22 603.9,320.82 604.1,320.76 604.3,320.37 604.5,320.56 604.7,320.25 604.9,319.13 605.1,320.11 605.3,319.88 605.5,319.88 605.7,320.17 605.9,319.69 606.1,320.64 606.3,319.84 606.5,319.99 606.7,320.06 606.9,319.75 607.1,320.18 607.3,320.22 607.5,320.13 607.7,319.37 607.9,319.24 608.1,319.39 608.3,319.72 608.5,318.67 608.7,319.23 608.9,319.06 609.1,319.32 609.3,319.19 609.5,320.17 609.7,320.02 609.9,320.36 610.1,319.36 610.3,319.57 610.5,319.93 610.7,321.12 610.9,321.25 611.1,320.1 611.3,320.92 611.5,321.89 611.7,320.27 611.9,320.87 612.1,321.83 612.3,321.64 612.5,320.82 612.7,322.33 612.9,322.15 613.1,322.1 613.3,321.13 613.5,321.81 613.7,322.7 613.9,322.33 614.1,322.58 614.3,322.08 614.5,323.14 614.7,322.26 614.9,322.99 615.1,322.74 615.3,322.12 615.5,323.56 615.7,322.13 615.9,322.5 616.1,323.07 616.3,322.3 616.5,322.16 616.7,323.17 616.9,323.08 617.1,323.24 617.3,323.75 617.5,324.79 617.7,323.39 617.9,325.03 618.1,323.88 618.3,323.76 618.5,322.38 618.7,323.09 618.9,324.12 619.1,324.34 619.3,323.62 619.5,324.28 619.7,324.65 619.9,323.87 620.1,323.32 620.3,323.7 620.5,324.09 620.7,324.42 620.9,324.7 621.1,323.77 621.3,324.3 621.5,324.13 621.7,324.29 621.9,324.87 622.1,324.97 622.3,323.98 622.5,323.9 622.7,323.84 622.9,323.91 623.1,323.96 623.3,324.08 623.5,323.87 623.7,323.54 623.9,323.46 624.1,324.12 624.3,325.4 624.5,324.34 624.7,324.36 624.9,324.17 625.1,323.86 625.3,325.02 625.5,323.71 625.7,323.32 625.9,323.14 626.1,323.89 626.3,323.2 626.5,323.23 626.7,323.2 626.9,322.91 627.1,323.69 627.3,322.64 627.5,324.78 627.7,321.96 627.9,322.67 628.1,323.41 628.3,323.53 628.5,323.02 628.7,323.27 628.9,323.1 629.1,322.97 629.3,323.1 629.5,322.79 629.7,322.48 629.9,322.33 630.1,322.77 630.3,322.06 630.5,322.35 630.7,322.8 630.9,322.03 631.1,322.39 631.3,321.39 631.5,321.7 631.7,321.77 631.9,321.57 632.1,321.67 632.3,322.15 632.5,321.18 632.7,320.96 632.9,321.49 633.1,320.48 633.3,321.25 633.5,321.89 633.7,321.21 633.9,321.49 634.1,321.39 634.3,321.82 634.5,321.42 634.7,321.23 634.9,319.27 635.1,320.8 635.3,321.47 635.5,320.98 635.7,320.64 635.9,321.53 636.1,320.54 636.3,320.83 636.5,321.38 636.7,320.71 636.9,321.09 637.1,320.98 637.3,320.32 637.5,320.69 637.7,320.77 637.9,320.62 638.1,321.59 638.3,320.98 638.5,320.66 638.7,320.27 638.9,320.88 639.1,321.8 639.3,320.94 639.5,321.55 639.7,321.42 639.9,320.93 640.1,320.73 640.3,321.59 640.5,320.41 640.7,321.69 640.9,320.77 641.1,321.95 641.3,321.31 641.5,321.53 641.7,322.2 641.9,321.13 642.1,321.76 642.3,321.61 642.5,322.11 642.7,322.28 642.9,322.09 643.1,322.09 643.3,321.8 643.5,322.4 643.7,321.99 643.9,322.23 644.1,322.3 644.3,321.49 644.5,321.65 644.7,322.43 644.9,322.33 645.1,323.05 645.3,321.06 645.5,322.53 645.7,323.04 645.9,322.51 646.1,322.92 646.3,322.52 646.5,322.5 646.7,323.05 646.9,321.87 647.1,321.37 647.3,322.88 647.5,322.71 647.7,322.73 647.9,322.84 648.1,323.05 648.3,322.47 648.5,323 648.7,322.94 648.9,322.15 649.1,322.72 649.3,322.97 649.5,322.4 649.7,323.42 649.9,322.7 650.1,323.32 650.3,323.69 650.5,322.1 650.7,322.2 650.9,323.26 651.1,322.85 651.3,323.25 651.5,323.92 651.7,322.72" fill="none" stroke="#fbbdd5" stroke-width="1.4" stroke-linejoin="round"/>
<rect x="375" y="419.4" width="140.8" height="46" fill="#fff" stroke="#888888" stroke-width="0.95"/>
<polyline points="381.1,457.3 381.3,457.42 381.5,457.54 381.7,457.61 381.9,457.75 382.1,457.87 382.3,458.11 382.5,458.22 382.7,458.47 382.9,458.39 383.1,458.98 383.3,459.01 383.5,459.36 383.5,459.27 384,453.8 384.5,460.62 384.7,460.87 384.9,461.37 385.1,461.4 385.3,461.64 385.5,462.51 385.7,462.58 385.9,462.49 386.1,462.94 386.3,463.02 386.5,462.51 386.7,461.91 386.9,461.78 387.1,461.37 387.3,460.25 387.5,459.38 387.7,459.26 387.9,459 388.1,458.27 388.1,458.39 388.6,421.1 389.1,457.05 389.3,456.92 389.5,457.07 389.7,455.63 389.8,456.13 390.3,425 390.8,454.95 390.9,454.45 391.1,455.53 391.3,455.08 391.5,454.85 391.7,454.59 391.9,454.82 391.9,454.22 392.4,432.3 392.9,453.83 393.1,453.63 393.3,454.35 393.5,453.51 393.7,453.86 393.7,453.87 394.2,448.1 394.7,454.35 394.9,454.06 395.1,455.47 395.3,455.22 395.5,454.73 395.7,455.55 395.9,456.25 396.1,456.91 396.3,454.47 396.5,456.71 396.5,456 397,448.7 397.5,457.53 397.7,458.29 397.9,459.17 398.1,457.13 398.2,458.54 398.7,447.6 399.2,459.75 399.3,458.41 399.5,459.44 399.7,460.4 399.9,460.93 400,459.55 400.5,437.2 401,457.72 401.1,456.95 401.3,457.5 401.5,457.16 401.7,456.63 401.9,456.33 402.1,455.29 402.3,455.76 402.5,456.94 402.7,455.66 402.9,454.51 403.1,456.59 403.3,455.81 403.5,456.95 403.6,455.21 404.1,440.7 404.6,454.75 404.7,454.06 404.9,454.13 405.1,455.06 405.2,454.56 405.7,439.5 406.2,454.28 406.7,441 407.2,453.99 407.3,452.79 407.5,454.52 407.7,453.33 407.9,454.17 408.1,454.04 408.3,454.54 408.5,454.01 408.7,454.03 408.9,452.98 409.1,452.36 409.3,452.18 409.5,452.21 409.7,451.53 409.9,451.83 410.1,452.03 410.3,452.15 410.3,451.94 410.8,442.3 411.3,451.22 411.5,451.56 411.7,450.48 411.9,450.32 412.1,452.43 412.3,451.37 412.5,452.19 412.7,452.41 412.9,450.05 413.1,451.07 413.3,451.23 413.5,451.45 413.7,451.61 413.9,451.53 414.1,451.73 414.3,450.62 414.5,451.92 414.7,451.69 414.9,452.62 415.1,452.36 415.3,453.42 415.5,453.74 415.7,453.46 415.9,453.55 416.1,453.43 416.3,453.05 416.5,453.32 416.7,453.09 416.9,453.83 416.9,453.52 417.4,446.1 417.9,453.68 418.1,453.14 418.3,453.61 418.5,453.38 418.7,454.15 418.9,453.55 419.1,453.28 419.3,453.59 419.5,455.47 419.5,454.42 420,447.1 420.5,455.29 420.7,454.25 420.9,456.03 421,455.73 421.5,448.7 422,456.49 422.1,456.75 422.3,457.4 422.5,456.84 422.7,457.04 422.9,456.7 423.1,457.3 423.3,455.99 423.5,457.28 423.7,456.1 423.9,455.47 424.1,456.44 424.3,457.28 424.5,456.47 424.7,455.05 424.9,455.78 425.1,454.62 425.1,454.99 425.6,446.1 426.1,454.1 426.3,453.47 426.5,452.82 426.7,452.8 426.9,453.29 427.1,454.76 427.1,454.1 427.6,445.6 428.1,454.51 428.3,454.71 428.5,455.02 428.7,454.38 428.9,455.01 429.1,455.25 429.3,454.11 429.5,453.61 429.7,454.59 429.9,454.56 430.1,454.41 430.3,455.43 430.5,455.97 430.7,454.19 430.7,454.53 431.2,442.3 431.7,454.17 431.9,454.68 432.1,455.63 432.3,454.58 432.5,453.37 432.7,454.29 432.9,454.74 433.1,453.95 433.3,453.12 433.5,454.72 433.7,452.39 433.9,453.69 434.1,453.18 434.3,452.13 434.5,453.95 434.7,453.15 434.8,452.82 435.3,447.6 435.8,452.29 435.9,452.45 436.1,452.65 436.3,452.18 436.5,451.99 436.7,452.25 436.9,451.63 437.1,452.67 437.3,451.79 437.5,451.85 437.7,452 437.9,450.69 438.1,450.95 438.3,452.72 438.5,451.77 438.7,451.28 438.9,451.78 439.1,451.14 439.3,451.76 439.5,451.02 439.7,451.79 439.9,450.33 440.1,452.68 440.3,451.23 440.4,451.65 440.9,444.8 441.4,451.82 441.5,452.15 441.7,454.7 441.9,450.93 442.1,452.22 442.3,451.76 442.5,452.19 442.5,452.05 443,448 443.5,452.27 443.7,451.79 443.9,452.49 444.1,454.59 444.3,451.88 444.5,451.83 444.7,452.52 444.9,452.57 445.1,453.28 445.3,452.81 445.5,452.23 445.7,453.01 445.9,454.84 446.1,453.92 446.3,451.07 446.5,453.05 446.7,452.6 446.9,453.75 447.1,453.26 447.3,454.84 447.5,454.2 447.7,454.25 447.9,453.83 448.1,453.74 448.3,454.08 448.5,454.81 448.7,454.35 448.9,453.8 449.1,454.97 449.3,454.28 449.5,454.15 449.7,453.71 449.9,453.91 450.1,453.91 450.3,452.51 450.5,455.11 450.7,454.86 450.9,454.39 451.1,455.27 451.3,454.91 451.5,454.91 451.7,453.1 451.9,454.61 452.1,455.15 452.3,455.88 452.5,456.07 452.7,455.84 452.9,454.22 453.1,453.6 453.3,455.4 453.5,455.09 453.7,455.71 453.9,455.06 454.1,455.3 454.3,454.26 454.5,455.49 454.7,454.96 454.9,455.47 455.1,455.55 455.3,455.21 455.5,455.48 455.7,455.29 455.9,455.76 456.1,455.6 456.3,454.95 456.5,454.89 456.7,456.22 456.9,455.06 457.1,455.62 457.3,455.18 457.5,454.52 457.7,454.3 457.9,454.69 458.1,454.64 458.3,454.71 458.5,453.51 458.7,453.76 458.9,453.9 459.1,454.72 459.3,452.37 459.5,453.8 459.7,453.13 459.9,453.55 460.1,452.93 460.3,453.3 460.5,453.86 460.7,453.09 460.9,453.03 461.1,452.88 461.3,452.15 461.5,452.74 461.7,452.21 461.9,451.76 462.1,452.06 462.3,451.83 462.5,452.25 462.7,451.69 462.9,451.31 463.1,452.27 463.3,451.9 463.5,451.95 463.7,451.48 463.9,450.99 464.1,450.72 464.3,450.71 464.5,451.29 464.7,450.76 464.9,449.82 465.1,450.54 465.3,449.74 465.5,450.56 465.7,449.78 465.9,449.73 466.1,450.47 466.3,450.36 466.5,449.52 466.7,450.86 466.9,451.68 467.1,449.77 467.3,451.63 467.5,450.36 467.7,450.56 467.9,450.84 468.1,450.26 468.3,451.86 468.5,451.54 468.7,450.99 468.9,451.36 469.1,450.81 469.3,451.56 469.5,452.36 469.7,451.03 469.9,451.82 470.1,452.23 470.3,452.79 470.5,453.02 470.7,452.1 470.9,451.98 471.1,452.64 471.3,452.22 471.5,452.26 471.7,453.01 471.9,453.35 472.1,452.59 472.3,452.35 472.5,452.77 472.7,451.45 472.9,452.46 473.1,451.91 473.3,453.77 473.5,452.87 473.7,452.57 473.9,452.39 474.1,451.15 474.3,452.89 474.5,453.38 474.7,452.12 474.9,452.88 475.1,452.9 475.3,451.7 475.5,453.03 475.7,453.25 475.9,452.66 476.1,452.51 476.3,452.97 476.5,451.73 476.7,452.61 476.9,453.13 477.1,451.91 477.3,453.11 477.5,452.37 477.7,451.5 477.9,452.57 478.1,452.13 478.3,452.84 478.5,452.09 478.7,453.31 478.9,452.4 479.1,453.03 479.3,452.57 479.5,452.77 479.7,453.63 479.9,453.17 480.1,452.91 480.3,452.52 480.5,453.86 480.7,453.7 480.9,453.21 481.1,453.58 481.3,452.97 481.5,453.04 481.7,453.21 481.9,453.89 482.1,453.92 482.3,453.43 482.5,454.27 482.7,454.34 482.9,454.07 483.1,454.57 483.3,453.91 483.5,454.04 483.7,454.38 483.9,454.14 484.1,454.6 484.3,453.53 484.5,454.95 484.7,453.79 484.9,454.1 485.1,453.43 485.3,454.43 485.5,454.73 485.7,454.56 485.9,454.36 486.1,453.02 486.3,453.34 486.5,453.41 486.7,453.05 486.9,454.02 487.1,453.42 487.3,453.19 487.5,453.34 487.7,452.47 487.9,452.37 488.1,452.26 488.3,452.87 488.5,452.67 488.7,452.68 488.9,452.83 489.1,451.46 489.3,451.78 489.5,452.07 489.7,451.21 489.9,451.56 490.1,452.31 490.3,452.31 490.5,452.26 490.7,451.69 490.9,451.53 491.1,452.18 491.3,451.4 491.5,451.74 491.7,452.22 491.9,451.32 492.1,451.17 492.3,451.46 492.5,451.75 492.7,451.66 492.9,451.47 493.1,451.66 493.3,450.52 493.5,450.88 493.7,451.39 493.9,450.81 494.1,450.57 494.3,450.62 494.5,450.75 494.7,451.12 494.9,450.67 495.1,451.3 495.3,452.03 495.5,451.07 495.7,451.78 495.9,451.26 496.1,450.53 496.3,450.96 496.5,450.58 496.7,451.46 496.9,450.47 497.1,451.73 497.3,451.34 497.5,450 497.7,451.43 497.9,451.81 498.1,450.61 498.3,451.51 498.5,450.09 498.7,451.13 498.9,450.15 499.1,451.25 499.3,450.09 499.5,449.68 499.7,451.26 499.9,452.28 500.1,450.88 500.3,451.68 500.5,451.41 500.7,451.28 500.9,451.87 501.1,452.5 501.3,451.16 501.5,452.19 501.7,452.19 501.9,451.41 502.1,453.07 502.3,453.34 502.5,451.98 502.7,453.43 502.9,452.66 503.1,452.62 503.3,453.52 503.5,452.91 503.7,453 503.9,453.63 504.1,453.55 504.3,453.38 504.5,452.25 504.7,452.19 504.9,453.58 505.1,452.57 505.3,453.14 505.5,452.55 505.7,453.03 505.9,452.5 506.1,453.99 506.3,452.68 506.5,453.15 506.7,453.14 506.9,453.86 507.1,452.56 507.3,453.27 507.5,453.2 507.7,453.59 507.9,453.57 508.1,453.11 508.3,453.48 508.5,453.18 508.7,453.61 508.9,453.33 509.1,453.06 509.3,453.38 509.5,453.58 509.7,454.53" fill="none" stroke="#848436" stroke-width="1.45" stroke-linejoin="round"/>
<rect x="346.2" y="473.6" width="140" height="45.3" fill="#fff" stroke="#888888" stroke-width="0.95"/>
<polyline points="352.3,510.3 352.5,510.41 352.7,510.52 352.9,510.66 353.1,510.87 353.3,510.85 353.5,511.06 353.7,511.18 353.9,511.5 354.1,511.87 354.2,511.89 354.7,507.8 355.2,513.53 355.3,514.02 355.5,514.22 355.7,514.59 355.9,514.78 356.1,515.4 356.3,515.91 356.5,516.13 356.7,516.44 356.9,516.74 357.1,516.59 357.3,516.29 357.5,515.84 357.7,515.01 357.9,514.71 358.1,513.16 358.3,513.25 358.5,512.18 358.7,511.72 358.9,510.94 359,511.2 359.5,475.1 360,509.19 360.1,509.84 360.3,508.98 360.5,508.33 360.7,508.85 360.8,508.31 361.3,481.2 361.8,507.6 361.9,507.35 362.1,507.74 362.3,507.13 362.5,507.51 362.7,507.74 362.9,506.77 363.1,507.74 363.1,507.01 363.6,484.3 364.1,506.72 364.3,506.83 364.5,506.71 364.7,507.16 364.9,506.2 364.9,506.83 365.4,501.1 365.9,507.68 366.1,506.58 366.3,507.91 366.5,508.22 366.7,508.55 366.9,509.27 367.1,509.89 367.3,509.46 367.5,510.01 367.7,509.12 367.9,509.36 368.1,510.65 368.3,511.22 368.5,511.51 368.7,511.65 368.9,512.04 369,511.62 369.5,502.1 370,512.71 370.1,511.72 370.3,513.69 370.5,512.59 370.7,512.69 370.9,512.92 371,512.64 371.5,491.2 372,511.11 372.1,510.74 372.3,509.05 372.5,509.79 372.7,510.06 372.9,509.17 373.1,509.15 373.3,508.99 373.5,508.82 373.7,509.2 373.9,508.17 374.1,507.72 374.3,508.02 374.5,508.87 374.6,507.31 375.1,495 375.6,506.69 376.1,494 376.6,506.25 376.7,505.61 376.9,505.11 377.1,506.39 377.2,506.04 377.7,495.5 378.2,505.79 378.3,504.61 378.5,505.12 378.7,506.87 378.9,505.62 379.1,505.28 379.3,504.81 379.5,506.11 379.7,506.16 379.9,505.88 380.1,505.43 380.3,505.91 380.5,505.97 380.7,505.22 380.9,506.14 381.1,504.22 381.3,504.8 381.5,505.49 381.7,505.62 381.8,505.7 382.3,496 382.8,505.7 382.9,506.28 383.1,505.98 383.3,504.9 383.5,505.56 383.7,506.6 383.9,504.91 384.1,505.79 384.3,505.54 384.5,505.28 384.7,505.32 384.8,506.09 385.3,501.6 385.8,506.84 385.9,507.15 386.1,507.7 386.3,507.61 386.5,507.81 386.7,508.05 386.9,507.88 387.1,506.72 387.3,507.31 387.5,506.74 387.7,505.53 387.9,505.97 388.1,508.55 388.2,507.06 388.7,492.9 389.2,506.78 389.3,507.05 389.5,506.54 389.7,506.65 389.9,507.59 390.1,507.27 390.3,506.7 390.5,507.45 390.7,507.66 390.9,506.86 391,507.07 391.5,501.1 392,507.79 392.1,507.43 392.3,506.84 392.5,507.28 392.7,509.37 392.9,507.63 393.1,508.84 393.3,508.38 393.5,509.07 393.7,509.19 393.9,508.25 394.1,508.59 394.3,508.79 394.5,508.67 394.7,508.39 394.9,507.98 395.1,508.39 395.3,508.6 395.5,507.78 395.7,506.6 395.9,507.13 396.1,506.65 396.3,506.71 396.5,507.5 396.6,506.14 397.1,496.3 397.6,506.09 397.7,507.24 397.9,506.41 398.1,505.88 398.3,507.72 398.5,505.54 398.6,506.52 399.1,500.6 399.6,507.02 399.7,506.83 399.9,507.69 400.1,505.58 400.3,506.9 400.5,507.4 400.7,506.89 400.9,506.01 401.1,507.08 401.3,506.65 401.5,507.66 401.7,507.98 401.9,506.94 401.9,506.89 402.4,495.3 402.9,506.25 403.1,506.35 403.3,507.44 403.5,506.97 403.7,506.31 403.9,505.16 404.1,505.86 404.3,504.75 404.5,506.48 404.7,505.83 404.9,506.69 405.1,505.93 405.3,504.36 405.5,506.17 405.7,506.36 405.8,505.6 406.3,500.4 406.8,505.56 406.9,504.7 407.1,504.88 407.3,507.45 407.5,505.18 407.7,504.9 407.9,505.27 408.1,505.57 408.3,506.45 408.5,506.19 408.7,506.05 408.9,505.5 409.1,505.55 409.3,504.96 409.4,505.32 409.9,501.6 410.4,505.15 410.5,505.14 410.7,505.06 410.9,504.18 411.1,505.06 411.3,505.37 411.5,505.66 411.7,505.42 411.9,505.78 411.9,505 412.4,498.8 412.9,505.02 413.1,505.17 413.3,505.65 413.5,504.95 413.7,504.64 413.9,506.56 414.1,505.39 414.3,506.2 414.5,505.54 414.7,504.98 414.9,503.63 415.1,505.28 415.3,504.14 415.5,503.71 415.7,506.15 415.9,505.84 416.1,505.85 416.3,505.52 416.5,505.55 416.7,505.97 416.9,505.9 417.1,505.96 417.3,506.55 417.5,504.5 417.7,506.9 417.9,506 418.1,507.13 418.3,507.46 418.5,506.21 418.7,507.41 418.9,507.5 419.1,506.57 419.3,506.75 419.5,507.22 419.7,505.71 419.9,506.94 420.1,507.4 420.3,507.02 420.5,506.31 420.7,507.15 420.9,508.44 421.1,508.35 421.3,507.45 421.5,507.05 421.7,507.6 421.9,507.66 422.1,507.25 422.3,507.51 422.5,508.16 422.7,508.39 422.9,506.27 423.1,508.48 423.3,507.98 423.5,508.65 423.7,507.94 423.9,508.26 424.1,509.04 424.3,506.17 424.5,509.05 424.7,508.19 424.9,506.96 425.1,506.46 425.3,508.32 425.5,507.51 425.7,508.78 425.9,508.3 426.1,508.1 426.3,508.8 426.5,508.31 426.7,508.65 426.9,508.7 427.1,508.39 427.3,508.66 427.5,508.63 427.7,507.29 427.9,507.88 428.1,507.91 428.3,507.67 428.5,506.86 428.7,507.37 428.9,507.79 429.1,507.59 429.3,508.25 429.5,506.88 429.7,506.85 429.9,506.64 430.1,506.65 430.3,506.35 430.5,505.49 430.7,506.63 430.9,506.87 431.1,506.81 431.3,505.43 431.5,505.82 431.7,506.87 431.9,505.66 432.1,505.82 432.3,505.45 432.5,506.03 432.7,505.93 432.9,506.6 433.1,505.51 433.3,505.4 433.5,504.4 433.7,504.76 433.9,504.52 434.1,504.65 434.3,504.03 434.5,505.33 434.7,504.02 434.9,504.67 435.1,503.77 435.3,504.57 435.5,505.2 435.7,503.81 435.9,504.39 436.1,504.1 436.3,504.24 436.5,504.27 436.7,503.67 436.9,503.88 437.1,503.64 437.3,503.49 437.5,503.27 437.7,504.4 437.9,503.52 438.1,504.25 438.3,504.2 438.5,503.41 438.7,504.48 438.9,503.52 439.1,504.3 439.3,504.75 439.5,503.68 439.7,503.6 439.9,503.63 440.1,505.29 440.3,503.99 440.5,503.58 440.7,504.66 440.9,504.21 441.1,504.32 441.3,503.88 441.5,503.31 441.7,504.11 441.9,503.99 442.1,503.75 442.3,504.06 442.5,504.18 442.7,505.1 442.9,505.09 443.1,505.04 443.3,504.56 443.5,504.24 443.7,505.05 443.9,505.17 444.1,505.48 444.3,505 444.5,504.98 444.7,505.23 444.9,504.65 445.1,504.74 445.3,505.5 445.5,504.58 445.7,505.21 445.9,505.67 446.1,505.43 446.3,505.56 446.5,504.83 446.7,505.35 446.9,505.31 447.1,505.78 447.3,505.72 447.5,505.56 447.7,506.53 447.9,505.88 448.1,505.49 448.3,505.36 448.5,505.67 448.7,505.43 448.9,506.57 449.1,506.06 449.3,505.65 449.5,505.51 449.7,505.33 449.9,505.76 450.1,506.58 450.3,506.37 450.5,505.96 450.7,506.08 450.9,505.11 451.1,506.45 451.3,505.99 451.5,506.82 451.7,506.07 451.9,505.94 452.1,506.32 452.3,505.92 452.5,506.93 452.7,506.42 452.9,506.49 453.1,506.49 453.3,506.17 453.5,506.6 453.7,506.46 453.9,507.27 454.1,506.43 454.3,506.6 454.5,506.19 454.7,506.24 454.9,506.28 455.1,507.08 455.3,506.46 455.5,506.89 455.7,506.24 455.9,506.15 456.1,505.33 456.3,506.65 456.5,507.2 456.7,505.99 456.9,506.75 457.1,506.38 457.3,505.53 457.5,506.17 457.7,505.25 457.9,505.46 458.1,506.13 458.3,505.51 458.5,504.75 458.7,505.95 458.9,504.6 459.1,504.99 459.3,504.81 459.5,504.82 459.7,504.4 459.9,503.94 460.1,505.62 460.3,504.16 460.5,504.13 460.7,503.31 460.9,504.54 461.1,505.12 461.3,505.15 461.5,505.83 461.7,505.2 461.9,504.65 462.1,504.46 462.3,505.17 462.5,504.44 462.7,504.55 462.9,503.97 463.1,504.5 463.3,505.44 463.5,504.42 463.7,504.65 463.9,503.25 464.1,505.12 464.3,504.64 464.5,505.16 464.7,504.57 464.9,504.02 465.1,503.77 465.3,504.69 465.5,504.43 465.7,503.95 465.9,504.4 466.1,504.11 466.3,504.79 466.5,504.22 466.7,503.81 466.9,504.37 467.1,504.14 467.3,505.15 467.5,504.18 467.7,503.75 467.9,504.37 468.1,504.27 468.3,504.53 468.5,504.5 468.7,503.87 468.9,504.36 469.1,504.33 469.3,503.79 469.5,504.1 469.7,504.5 469.9,503.62 470.1,503.88 470.3,504.21 470.5,504.42 470.7,504.75 470.9,503.84 471.1,504.7 471.3,504.9 471.5,505.39 471.7,504.45 471.9,504.24 472.1,503.97 472.3,505.06 472.5,505.47 472.7,504.53 472.9,505.14 473.1,505.39 473.3,505.49 473.5,504.86 473.7,505.43 473.9,505.13 474.1,504.73 474.3,505.38 474.5,505.48 474.7,504.86 474.9,505.6 475.1,506.42 475.3,504.72 475.5,505.86 475.7,506.01 475.9,505.62 476.1,505.8 476.3,505.55 476.5,506.4 476.7,505.3 476.9,505.74 477.1,504.89 477.3,506.06 477.5,506.13 477.7,505.15 477.9,505.6 478.1,506.32 478.3,505.88 478.5,505.57 478.7,504.97 478.9,506.44 479.1,507.29 479.3,506.14 479.5,506.64 479.7,506.68 479.9,506.48 480.1,506.62" fill="none" stroke="#ee9c6a" stroke-width="1.5" stroke-linejoin="round"/>
<rect x="341.1" y="527.5" width="139.3" height="45.2" fill="#fff" stroke="#888888" stroke-width="0.95"/>
<polyline points="347.1,561.81 347.3,561.94 347.5,562.24 347.7,562.49 347.9,562.85 348.1,563.15 348.3,563.62 348.5,563.96 348.7,564.47 348.7,564.52 349.2,561.3 349.7,567.65 349.9,568.28 350.1,568.54 350.3,569.02 350.5,569.21 350.7,570.3 350.9,570.24 351.1,570.77 351.3,570.56 351.5,570.69 351.7,570.14 351.9,569.19 352.1,568.71 352.3,567.12 352.5,566.76 352.7,564.88 352.9,564.2 353.1,562.36 353.3,559.95 353.5,558.57 353.6,558.53 354.1,532.1 354.6,557.49 354.7,556.91 354.9,557.61 355.1,556.58 355.3,556.88 355.5,556.66 355.5,557 356,529.6 356.5,556.38 356.7,556.54 356.9,556.9 357.1,556.02 357.3,556.29 357.4,555.9 357.9,536.2 358.4,555.61 358.5,556.62 358.7,555.37 358.9,555.4 359.1,555.25 359.3,556.08 359.4,555.69 359.9,552.6 360.4,556.06 360.5,554.24 360.7,555.56 360.9,555.6 361.1,555.64 361.3,556.34 361.5,558.1 361.7,557.11 361.9,557.58 362.1,559.51 362.3,560.07 362.5,561.1 362.7,561.41 362.9,562.57 363.1,563.3 363.2,563.18 363.7,555.6 364.2,564.79 364.3,564.19 364.5,564.96 364.7,564.39 364.9,565.05 365.1,566.44 365.3,565.26 365.5,565.78 365.7,564.51 365.8,564.5 366.3,541.3 366.8,562.26 366.9,562.23 367.1,562.68 367.3,561.67 367.5,559.8 367.7,560.37 367.9,559.66 368.1,559.37 368.3,561.16 368.5,558.74 368.7,559.39 368.9,558.49 369.1,559.36 369.1,558.76 369.6,545.4 370.1,557.95 370.3,557.33 370.5,556.97 370.7,558.6 370.9,557.38 371,557.55 371.5,544.2 372,557.23 372.1,557.53 372.2,557.18 372.7,545.4 373.2,556.88 373.3,558.66 373.5,557.42 373.7,556.78 373.9,556.47 374.1,555.97 374.3,557.09 374.5,556.18 374.7,556.54 374.9,555.12 375.1,556.23 375.3,557.25 375.5,555.52 375.7,556.16 375.9,555.51 376.1,556.14 376.3,556 376.3,555.25 376.8,546.4 377.3,554.79 377.5,555.04 377.7,554.97 377.9,554.01 378.1,554.53 378.3,556.64 378.5,555.19 378.7,554.75 378.9,556.53 379.1,554.57 379.3,553.3 379.5,553.85 379.7,554.28 379.9,555.68 380.1,556.34 380.3,554.28 380.5,556.71 380.7,555.17 380.9,556.28 381.1,556.48 381.3,556.5 381.5,556.24 381.7,556.39 381.9,555.5 382.1,556.52 382.3,557.04 382.4,556.36 382.9,550.5 383.4,556.49 383.5,556.67 383.7,555.64 383.9,555.01 384.1,557.52 384.3,557.07 384.5,557.33 384.7,556.6 384.9,557.22 385.1,558.47 385.3,557.58 385.5,556.8 385.5,557.58 386,553.4 386.5,558.92 386.7,558.25 386.9,560.02 387.1,559.77 387.3,559.41 387.5,559.26 387.7,560.26 387.9,560.38 388.1,560.21 388.3,560.5 388.5,560.17 388.7,561.91 388.9,558.86 389.1,560.39 389.3,559.34 389.5,560.24 389.7,559.27 389.9,559.36 390.1,559.17 390.3,558.66 390.5,558.97 390.7,557.13 390.8,558.05 391.3,551.5 391.8,558.07 391.9,559.47 392.1,556.54 392.3,557.49 392.5,558.88 392.7,557.46 392.9,558.17 393.1,559.55 393.1,558.35 393.6,550.5 394.1,558.58 394.3,558.55 394.5,558.75 394.7,557.62 394.9,558.78 395.1,558.02 395.3,558.97 395.5,558.97 395.7,557.99 395.9,558.98 396.1,558.7 396.3,558.32 396.5,558.73 396.5,558.22 397,547.5 397.5,557.49 397.7,555.68 397.9,556.98 398.1,555.64 398.3,556.56 398.5,556.97 398.7,556.68 398.9,557.26 399.1,556.7 399.3,554.45 399.5,555.48 399.7,557.24 399.9,557.13 400.1,555.99 400.3,554.72 400.5,557.22 400.7,554.12 400.9,555.7 401.1,555.34 401.3,555.44 401.3,555.32 401.8,551 402.3,554.89 402.5,554.75 402.7,554.77 402.9,554.56 403.1,554.05 403.3,554.95 403.5,554.46 403.7,553.72 403.9,554.69 404.1,554.53 404.3,554.67 404.5,553.39 404.7,554.08 404.9,554.97 405.1,555.35 405.3,554.99 405.5,554.91 405.7,555.36 405.9,555.61 406.1,556.22 406.3,555.38 406.4,555.12 406.9,549.3 407.4,555.47 407.5,555.46 407.7,555.9 407.9,555.68 408.1,554.73 408.3,555.6 408.5,555.41 408.7,556.08 408.9,556.47 409.1,555.67 409.3,556.99 409.5,557.51 409.7,556.54 409.9,557.37 410.1,555.94 410.3,556.71 410.5,557.87 410.7,556.07 410.9,557.05 411.1,556.89 411.3,558.4 411.5,558.5 411.7,557.39 411.9,558.01 412.1,556.25 412.3,558.7 412.5,558.46 412.7,559.21 412.9,556.81 413.1,558.74 413.3,558.35 413.5,556.94 413.7,558.29 413.9,558.78 414.1,559.43 414.3,559.09 414.5,558.69 414.7,559.38 414.9,559.08 415.1,558.79 415.3,558.61 415.5,559.43 415.7,559.49 415.9,560.63 416.1,559.23 416.3,560.6 416.5,559.86 416.7,560.44 416.9,559.17 417.1,559.25 417.3,559.66 417.5,560.47 417.7,560.07 417.9,560.47 418.1,560.25 418.3,560.73 418.5,560.26 418.7,559.85 418.9,560.53 419.1,560.3 419.3,561.34 419.5,560.21 419.7,560.39 419.9,560.17 420.1,561.06 420.3,560.9 420.5,560.78 420.7,559.66 420.9,559.5 421.1,560.55 421.3,560.8 421.5,561.21 421.7,559.25 421.9,560.15 422.1,559.2 422.3,559.56 422.5,559.9 422.7,560.49 422.9,559.55 423.1,559.34 423.3,559.46 423.5,560.24 423.7,560.77 423.9,558.43 424.1,559.02 424.3,558.81 424.5,559.58 424.7,559.05 424.9,559.53 425.1,558.01 425.3,558.45 425.5,558.08 425.7,557.62 425.9,558.02 426.1,557.36 426.3,559.07 426.5,558.02 426.7,557.15 426.9,557.26 427.1,558.39 427.3,557.1 427.5,557.59 427.7,557.4 427.9,557.54 428.1,557.17 428.3,556.6 428.5,556.27 428.7,555.54 428.9,556.29 429.1,556.26 429.3,555.89 429.5,555.87 429.7,555.22 429.9,556.81 430.1,555.36 430.3,554.99 430.5,555.12 430.7,555.25 430.9,555.62 431.1,553.97 431.3,555.38 431.5,554.77 431.7,554.95 431.9,555.52 432.1,555.39 432.3,554.66 432.5,554.97 432.7,555.98 432.9,555.76 433.1,555.55 433.3,555.18 433.5,555.72 433.7,555.5 433.9,555.1 434.1,554.95 434.3,555.8 434.5,555.81 434.7,556.31 434.9,555.55 435.1,556.58 435.3,555.78 435.5,556.67 435.7,556.4 435.9,555.91 436.1,555.8 436.3,556.27 436.5,556.26 436.7,556.91 436.9,556.13 437.1,555.76 437.3,556.51 437.5,557.5 437.7,557.38 437.9,556.27 438.1,556.46 438.3,556.77 438.5,556.29 438.7,556.51 438.9,556.51 439.1,556.13 439.3,556.36 439.5,556.44 439.7,556.81 439.9,556.11 440.1,556.76 440.3,556.23 440.5,556.33 440.7,556.19 440.9,558.77 441.1,557.41 441.3,557.47 441.5,557.22 441.7,556.71 441.9,556.88 442.1,557.02 442.3,557.12 442.5,557.22 442.7,557.71 442.9,555.5 443.1,556.73 443.3,557.38 443.5,556.89 443.7,557.02 443.9,557.88 444.1,557.27 444.3,558.09 444.5,557.22 444.7,557.39 444.9,556.77 445.1,556.35 445.3,557.17 445.5,557.44 445.7,557.27 445.9,556.8 446.1,557.84 446.3,557.58 446.5,557.58 446.7,557.22 446.9,558.46 447.1,558.41 447.3,557.85 447.5,557.66 447.7,557.87 447.9,558.62 448.1,559.2 448.3,557.82 448.5,557.62 448.7,556.94 448.9,559.26 449.1,557.32 449.3,558.32 449.5,558.14 449.7,558.56 449.9,557.47 450.1,557.09 450.3,557.95 450.5,558.05 450.7,558.36 450.9,556.88 451.1,557.41 451.3,557.42 451.5,556.77 451.7,557.25 451.9,557.61 452.1,557.07 452.3,556.24 452.5,556.99 452.7,557.11 452.9,556.82 453.1,556.81 453.3,555.45 453.5,556.38 453.7,556.33 453.9,555.72 454.1,555.78 454.3,555.32 454.5,556.24 454.7,555.4 454.9,555.01 455.1,555.53 455.3,555.47 455.5,555.74 455.7,554.98 455.9,555.06 456.1,555.59 456.3,556.52 456.5,555.64 456.7,554.73 456.9,555.49 457.1,555.02 457.3,554.49 457.5,555.08 457.7,555.13 457.9,555.64 458.1,556.09 458.3,556 458.5,555.84 458.7,555.23 458.9,555.53 459.1,555.44 459.3,556.17 459.5,555.14 459.7,555.2 459.9,556.23 460.1,555.78 460.3,555.27 460.5,555.59 460.7,555.59 460.9,555.62 461.1,555.93 461.3,555.73 461.5,555.46 461.7,555.31 461.9,554.71 462.1,555.36 462.3,556.17 462.5,555.72 462.7,555.29 462.9,555.51 463.1,555.21 463.3,555.8 463.5,556.67 463.7,556.58 463.9,556.29 464.1,556.09 464.3,555.61 464.5,555.13 464.7,555.8 464.9,555.61 465.1,556.31 465.3,556.04 465.5,555.74 465.7,556.33 465.9,557.64 466.1,555.81 466.3,556.92 466.5,556.74 466.7,556.48 466.9,556.24 467.1,556.72 467.3,556.91 467.5,557.27 467.7,557.33 467.9,557.22 468.1,556.79 468.3,557.36 468.5,557.04 468.7,556.82 468.9,557.84 469.1,557.11 469.3,556.88 469.5,557.55 469.7,556.56 469.9,557.52 470.1,557.8 470.3,557.39 470.5,557.74 470.7,558.72 470.9,558.37 471.1,558.15 471.3,558 471.5,557.46 471.7,557.67 471.9,557.61 472.1,557.78 472.3,557.84 472.5,557.4 472.7,558.62 472.9,557.31 473.1,558.02 473.3,558.37 473.5,557.85 473.7,557.53 473.9,557.89 474.1,558.86 474.3,558.2 474.5,557.75 474.7,558.19 474.9,557.8 475.1,556.96" fill="none" stroke="#00195a" stroke-width="1.6" stroke-linejoin="round"/>
<rect x="318.8" y="635.8" width="143.4" height="45" fill="#fff" stroke="#888888" stroke-width="0.95"/>
<polyline points="325.1,660.3 325.3,662.7 325.5,664.89 325.7,666.85 325.9,668.69 326.1,670.34 326.3,671.75 326.5,673.04 326.7,674.19 326.9,675.08 327.1,676.1 327.3,676.63 327.5,677.3 327.7,677.96 327.9,678.17 328.1,678.51 328.3,678.7 328.5,678.95 328.7,678.85 328.9,679.07 329.1,679.35 329.3,679.22 329.5,679.17 329.7,679.16 329.9,678.55 330.1,677.37 330.3,675.88 330.5,673.71 330.7,671.97 330.9,669.63 331.1,667.72 331.3,664.81 331.5,660.93 331.7,657.12 331.9,653.46 332.1,651.49 332.3,650.57 332.5,650.39 332.7,649.78 332.9,650.12 333.1,649.55 333.3,649.71 333.3,649.43 333.8,637.7 334.3,648.75 334.5,649.05 334.7,648.87 334.9,648.99 335.1,648.47 335.2,648.8 335.7,641.4 335.9,649.11 336.4,641.9 336.9,649.8 337.1,649.63 337.3,649.86 337.5,650.82 337.7,650.99 337.9,651.22 338.1,651.76 338.3,652.06 338.5,652.51 338.7,653.04 338.9,653.87 339.1,654.76 339.3,654.81 339.5,655.76 339.7,656.58 339.9,657.09 340.1,658.54 340.3,659.6 340.5,659.66 340.7,660.92 340.9,660.97 341.1,662.27 341.3,662.91 341.5,662.84 341.7,662.7 341.9,663.87 342.1,663.83 342.3,664.16 342.5,664.82 342.7,665.6 342.9,664.65 343.1,663.77 343.3,661.84 343.5,661 343.7,659.17 343.9,658.7 344.1,657.08 344.3,656.58 344.5,656.15 344.7,655.7 344.9,655.96 345.1,655.47 345.3,654.83 345.5,654.84 345.7,654.81 345.9,654.96 346.1,654.03 346.3,654.33 346.5,652.85 346.7,652.39 346.9,650.96 347.1,651.24 347.3,649.41 347.5,648.58 347.7,648.81 347.9,647.6 348.1,647.19 348.3,647.81 348.5,647 348.7,647.35 348.9,646.49 349.1,646.89 349.3,646.92 349.5,646.3 349.7,647.08 349.9,645.92 350.1,645.99 350.3,646.32 350.5,647.26 350.7,647.26 350.9,647.91 351.1,648.97 351.3,650.05 351.5,649.54 351.7,649.15 351.9,649.71 352.1,650.06 352.3,649.42 352.5,649.71 352.7,648.63 352.9,649.53 353.1,649.5 353.3,649.7 353.5,649.48 353.7,649.67 353.9,648.73 354.1,649.54 354.3,648.36 354.5,648.92 354.7,649.86 354.9,649.85 355.1,648.62 355.3,650.04 355.5,649.72 355.7,649.76 355.9,650.5 356.1,650.69 356.3,651.58 356.5,650.36 356.7,651.1 356.9,651.44 357.1,650.75 357.3,652.44 357.5,652.85 357.7,651.74 357.9,652.34 358.1,652.1 358.3,652.45 358.5,652.04 358.7,652.88 358.9,651.93 359.1,653.29 359.3,652.83 359.5,653.96 359.7,651.94 359.9,652.8 360.1,652.27 360.3,652.93 360.5,653.32 360.7,652.71 360.9,652.55 361.1,652.51 361.3,653.64 361.5,654.33 361.7,654.44 361.9,654.04 362.1,653.72 362.3,654.23 362.5,653.86 362.7,654.04 362.9,655.64 363.1,655.18 363.3,655.72 363.5,655.65 363.7,656.71 363.9,657 364.1,656.09 364.3,656.53 364.5,656.62 364.7,657.94 364.9,658.2 365.1,657.72 365.3,659.38 365.5,658.51 365.7,658.16 365.9,658.01 366.1,659.23 366.3,659.68 366.5,659.36 366.7,659.95 366.9,660.42 367.1,659.75 367.3,660.17 367.5,660.52 367.7,659.81 367.9,659.13 368.1,659.5 368.3,659.39 368.5,660.04 368.7,658.5 368.9,657.71 369.1,658.45 369.3,658.24 369.5,657.62 369.7,657.9 369.9,657.54 370.1,657.78 370.3,656.48 370.5,656.34 370.7,656.48 370.9,656.02 371.1,656.73 371.3,656.14 371.5,655.59 371.7,656.17 371.9,655.38 372.1,655.39 372.3,655.04 372.5,654.27 372.7,654.01 372.9,653.82 373.1,652.97 373.3,653.07 373.5,653.37 373.7,652.72 373.9,651.66 374.1,652.99 374.3,650.79 374.5,651.24 374.7,650.91 374.9,650.83 375.1,649.39 375.3,649.58 375.5,649.26 375.7,649.84 375.9,649.39 376.1,649.36 376.3,649.39 376.5,650.1 376.7,649.39 376.9,649.47 377.1,648.48 377.3,649.31 377.5,648.26 377.7,649.39 377.9,648.95 378.1,648.38 378.3,648.22 378.5,648.77 378.7,648.87 378.9,648.49 379.1,648.6 379.3,648.6 379.5,648.47 379.7,648.65 379.9,648.89 380.1,649.43 380.3,649.08 380.5,648.44 380.7,649.61 380.9,649.4 381.1,648.66 381.3,649.38 381.5,648.6 381.7,648.54 381.9,648.62 382.1,649.94 382.3,649.23 382.5,649.41 382.7,649.37 382.9,649.21 383.1,649.79 383.3,650 383.5,650.8 383.7,649.42 383.9,650.81 384.1,650.47 384.3,649.31 384.5,650.89 384.7,651.36 384.9,651.2 385.1,650.88 385.3,650.96 385.5,649.95 385.7,651.34 385.9,651.44 386.1,651.03 386.3,651.83 386.5,651.58 386.7,653.37 386.9,651.74 387.1,652.14 387.3,651.71 387.5,652.9 387.7,653.43 387.9,653.63 388.1,653.53 388.3,654.6 388.5,654.51 388.7,655.27 388.9,654.81 389.1,654.15 389.3,655.25 389.5,654.99 389.7,656.2 389.9,655.64 390.1,656.06 390.3,656.41 390.5,655.83 390.7,656.67 390.9,657.57 391.1,657.01 391.3,657.43 391.5,657.81 391.7,657.54 391.9,657.91 392.1,658.46 392.3,658.15 392.5,658.5 392.7,658.5 392.9,658.12 393.1,658.1 393.3,659.98 393.5,659.76 393.7,659.05 393.9,659.74 394.1,659.92 394.3,659.94 394.5,659.32 394.7,658.83 394.9,659.02 395.1,659.66 395.3,660.61 395.5,660.81 395.7,659.9 395.9,659.93 396.1,660.83 396.3,661.37 396.5,659.8 396.7,660.62 396.9,660.49 397.1,660.28 397.3,660.32 397.5,660.35 397.7,660.56 397.9,659.74 398.1,660.6 398.3,661.04 398.5,661.03 398.7,661.04 398.9,660.76 399.1,660.64 399.3,661.53 399.5,660.29 399.7,660.37 399.9,660.86 400.1,660.07 400.3,659.21 400.5,659.47 400.7,659.38 400.9,659.37 401.1,659.03 401.3,659.65 401.5,659.31 401.7,659 401.9,658.32 402.1,658.91 402.3,658.7 402.5,659.16 402.7,657.44 402.9,657.52 403.1,658.16 403.3,656.62 403.5,657.19 403.7,656.99 403.9,656.74 404.1,656.04 404.3,656.44 404.5,655.47 404.7,656.82 404.9,655.78 405.1,656 405.3,655.78 405.5,655.76 405.7,655.6 405.9,655.63 406.1,655.06 406.3,655.14 406.5,654.39 406.7,654.28 406.9,654.25 407.1,654.03 407.3,653.7 407.5,653.97 407.7,654.53 407.9,654.28 408.1,653.69 408.3,653.97 408.5,653.87 408.7,655.01 408.9,652.56 409.1,653.45 409.3,652.48 409.5,653.77 409.7,652.86 409.9,653.12 410.1,652.89 410.3,653.07 410.5,651.01 410.7,651.89 410.9,652.49 411.1,651.64 411.3,652.6 411.5,652.92 411.7,651.48 411.9,651.91 412.1,652.45 412.3,653.06 412.5,652.6 412.7,652.43 412.9,651.55 413.1,652.04 413.3,652.1 413.5,651.72 413.7,652.3 413.9,651.93 414.1,651.9 414.3,653.35 414.5,652.15 414.7,653.32 414.9,652.15 415.1,652.38 415.3,651.81 415.5,652.25 415.7,653.51 415.9,652.73 416.1,651.71 416.3,653.66 416.5,652.48 416.7,652.82 416.9,653.11 417.1,652.19 417.3,654.15 417.5,654.1 417.7,653.3 417.9,653.76 418.1,653.49 418.3,653.4 418.5,653.67 418.7,653.08 418.9,653.71 419.1,653.69 419.3,655.11 419.5,653.33 419.7,654.89 419.9,654.66 420.1,654.42 420.3,654.08 420.5,655.47 420.7,655.35 420.9,654.61 421.1,654.6 421.3,654.89 421.5,655.86 421.7,654.44 421.9,655.06 422.1,655.71 422.3,654.41 422.5,655.2 422.7,655.93 422.9,655.15 423.1,655.4 423.3,654.69 423.5,655.82 423.7,655.03 423.9,655.53 424.1,655.99 424.3,655.56 424.5,656.4 424.7,656.38 424.9,656.3 425.1,656.63 425.3,656.05 425.5,655 425.7,656.7 425.9,656.68 426.1,656.03 426.3,655.86 426.5,656.98 426.7,656.11 426.9,656.17 427.1,656.15 427.3,657.67 427.5,656 427.7,654.97 427.9,656.3 428.1,655.77 428.3,655.35 428.5,656.33 428.7,655.93 428.9,656.66 429.1,655.95 429.3,656.73 429.5,656.57 429.7,655.99 429.9,656.34 430.1,656.84 430.3,656.17 430.5,654.94 430.7,655.7 430.9,655.7 431.1,656.2 431.3,655.38 431.5,655.99 431.7,655.23 431.9,655.25 432.1,655.03 432.3,655.1 432.5,654.94 432.7,655.14 432.9,654.47 433.1,654.25 433.3,654.71 433.5,654.77 433.7,654.42 433.9,654.8 434.1,654.71 434.3,655.4 434.5,653.65 434.7,655.48 434.9,653.08 435.1,653.35 435.3,654.42 435.5,653.71 435.7,654.02 435.9,653.9 436.1,653.39 436.3,653.32 436.5,653.81 436.7,654.17 436.9,654.27 437.1,654 437.3,653.69 437.5,654.48 437.7,652.6 437.9,653.77 438.1,654.41 438.3,654.56 438.5,654.31 438.7,654.36 438.9,654.16 439.1,653.64 439.3,652.32 439.5,653.23 439.7,653.33 439.9,654.32 440.1,653.2 440.3,653.22 440.5,653.76 440.7,652.85 440.9,653.38 441.1,653.65 441.3,653.16 441.5,653.29 441.7,652.35 441.9,652.63 442.1,653.17 442.3,653.93 442.5,652.99 442.7,652.8 442.9,652.88 443.1,653.69 443.3,652.57 443.5,653.47 443.7,653.21 443.9,653.48 444.1,653.08 444.3,653.57 444.5,654.31 444.7,653.46 444.9,653.4 445.1,652.32 445.3,654.04 445.5,653.48 445.7,654.1 445.9,654.01 446.1,653.58 446.3,653.72 446.5,653.4 446.7,655.29 446.9,654.77 447.1,654.78 447.3,655.04 447.5,655.21 447.7,654.97 447.9,655.12 448.1,655.97 448.3,653.73 448.5,654.83 448.7,654.43 448.9,654.85 449.1,653.48 449.3,654.3 449.5,655.38 449.7,654.29 449.9,655.31 450.1,654.6 450.3,655 450.5,654.3 450.7,654.83 450.9,654.37 451.1,655.54 451.3,654.32 451.5,655.49 451.7,655.05 451.9,655.29 452.1,656.2 452.3,655.32 452.5,655.14 452.7,655.54 452.9,655.95 453.1,655.3 453.3,656.56 453.5,655.76 453.7,655.5 453.9,655.37 454.1,655.68 454.3,656.1 454.5,656.41 454.7,655.9 454.9,655.57 455.1,655.89 455.3,654.79 455.5,656.59 455.7,656.46" fill="none" stroke="#fbbdd5" stroke-width="1.6" stroke-linejoin="round"/>
<rect x="72.4" y="650.7" width="142.9" height="45.4" fill="#fff" stroke="#888888" stroke-width="0.95"/>
<polyline points="78.6,665.48 78.75,666.31 78.9,667.19 79.05,668.05 79.2,668.97 79.35,669.91 79.5,670.8 79.65,671.84 79.8,672.78 79.95,673.89 80.1,674.88 80.25,675.88 80.4,676.98 80.55,678.09 80.7,679.38 80.85,680.9 81,682.45 81.15,684.18 81.3,685.81 81.45,687.42 81.6,688.9 81.75,690.33 81.9,691.68 82.05,692.7 82.2,693.45 82.35,693.63 82.5,693.64 82.65,693.24 82.8,692.68 82.95,691.71 83.1,690.97 83.25,689.67 83.4,688.43 83.55,687.07 83.7,685.57 83.85,683.86 84,682.6 84.15,680.97 84.3,679.44 84.45,677.87 84.6,676.41 84.75,675.04 84.9,673.71 85.05,672.15 85.2,670.38 85.35,669.02 85.5,667.15 85.65,665.63 85.8,664.1 85.95,662.44 86.1,661.51 86.25,660.43 86.4,659.41 86.55,659.09 86.7,658.54 86.85,657.95 87,657.41 87.15,656.51 87.3,656.22 87.45,655.76 87.6,655.5 87.75,655.22 87.9,655.18 88.05,654.98 88.2,654.65 88.35,655.01 88.5,655.26 88.65,655.21 88.8,655.13 88.95,655.6 89.1,656.05 89.25,656.17 89.4,656.9 89.55,657.13 89.7,658.03 89.85,658.5 90,658.83 90.15,659.07 90.3,659.88 90.45,660.13 90.6,660.55 90.75,661.37 90.9,661.37 91.05,661.67 91.2,662.61 91.35,663.3 91.5,663.73 91.65,664 91.8,664.8 91.95,664.68 92.1,665.79 92.25,666.27 92.4,666.14 92.55,666.83 92.7,666.88 92.85,667.44 93,668.35 93.15,668.39 93.3,669.24 93.45,669.8 93.6,670.2 93.75,670.91 93.9,671.68 94.05,671.72 94.2,672.54 94.35,673.29 94.5,673.36 94.65,673.93 94.8,674.04 94.95,675.52 95.1,676.32 95.25,676.71 95.4,677.77 95.55,678.07 95.7,678.26 95.85,678.32 96,678.29 96.15,678.79 96.3,678.99 96.45,678.71 96.6,678.42 96.75,678.05 96.9,678.01 97.05,676.55 97.2,676.45 97.35,675.9 97.5,675.38 97.65,674.57 97.8,673.34 97.95,672.31 98.1,671.18 98.25,671.29 98.4,670.17 98.55,669.16 98.7,667.94 98.85,666.99 99,667.35 99.15,666.2 99.3,665.87 99.45,665.96 99.6,663.8 99.75,663.61 99.9,663.62 100.05,663.2 100.2,661.82 100.35,661.78 100.5,660.99 100.65,660.51 100.8,660.55 100.95,660.01 101.1,660.13 101.25,659.43 101.4,659.58 101.55,657.98 101.7,658.4 101.85,657.12 102,656.76 102.15,656.69 102.3,657.73 102.45,657.22 102.6,655.92 102.75,657.53 102.9,657.16 103.05,656.29 103.2,656.11 103.35,656.14 103.5,655.27 103.65,657.49 103.8,655.62 103.95,655.77 104.1,655.68 104.25,655.47 104.4,655.33 104.55,656.21 104.7,655.18 104.85,655.37 105,655.6 105.15,656.81 105.3,655.62 105.45,655.71 105.6,656.76 105.75,655.8 105.9,656.5 106.05,657.52 106.2,657.29 106.35,657.12 106.5,658.38 106.65,657.02 106.8,657 106.95,656.22 107.1,657.74 107.25,658.33 107.4,657.42 107.55,659.57 107.7,659 107.85,659.03 108,657.38 108.15,658.7 108.3,658.85 108.45,656.91 108.6,658.68 108.75,658.57 108.9,657.36 109.05,659.35 109.2,660.78 109.35,659.72 109.5,658.38 109.65,658.98 109.8,660.28 109.95,658.59 110.1,659.73 110.25,659.51 110.4,659.71 110.55,661.14 110.7,658.28 110.85,660.84 111,660.08 111.15,659.82 111.3,658.41 111.45,660.35 111.6,659.75 111.75,657.41 111.9,658.99 112.05,659.24 112.2,659.51 112.35,659.99 112.5,659.88 112.65,662.33 112.8,661.97 112.95,660.96 113.1,662.55 113.25,663.45 113.4,661.94 113.55,660.26 113.7,662.13 113.85,663.37 114,661.04 114.15,662.22 114.3,663.36 114.45,663.79 114.6,663.61 114.75,663.28 114.9,662.91 115.05,662.62 115.2,664.44 115.35,664.53 115.5,663.18 115.65,663.11 115.8,665.35 115.95,665.24 116.1,663.49 116.25,662.7 116.4,664.81 116.55,665.75 116.7,666.12 116.85,666.15 117,663.72 117.15,665.69 117.3,665.4 117.45,665.19 117.6,669.19 117.75,666.4 117.9,666.87 118.05,666.42 118.2,667.72 118.35,668.44 118.5,666.93 118.65,667.36 118.8,667.01 118.95,666.46 119.1,667.55 119.25,668.27 119.4,667.96 119.55,667.71 119.7,665.81 119.85,668.48 120,668.29 120.15,669.93 120.3,667.3 120.45,666.38 120.6,665.69 120.75,667.24 120.9,667.92 121.05,668.3 121.2,666 121.35,667.23 121.5,669.17 121.65,667.95 121.8,667.41 121.95,667.34 122.1,665.76 122.25,665.94 122.4,667 122.55,669.19 122.7,669.05 122.85,667.32 123,668.28 123.15,667.96 123.3,668.86 123.45,666.38 123.6,667.58 123.75,668.42 123.9,665.44 124.05,666.95 124.2,667.31 124.35,667.44 124.5,667.47 124.65,667.42 124.8,667.8 124.95,668.13 125.1,666.54 125.25,668.78 125.4,664.89 125.55,665 125.7,665.43 125.85,663.61 126,662.35 126.15,662.26 126.3,665.39 126.45,662.56 126.6,661.29 126.75,665.51 126.9,663.1 127.05,662.57 127.2,660.66 127.35,662.16 127.5,660.81 127.65,661.63 127.8,660.99 127.95,660.44 128.1,660.82 128.25,658.94 128.4,659.37 128.55,658.56 128.7,660.02 128.85,660.23 129,660.12 129.15,655.85 129.3,661.01 129.45,657.9 129.6,657.82 129.75,657.72 129.9,657.5 130.05,659.29 130.2,657.43 130.35,657.54 130.5,658.39 130.65,658.83 130.8,655.18 130.95,654.75 131.1,653.56 131.25,653.47 131.4,656.76 131.55,656.33 131.7,656.04 131.85,656.52 132,656.38 132.15,657.69 132.3,658.41 132.45,654.4 132.6,657.95 132.75,657.22 132.9,654.21 133.05,655.72 133.2,654.71 133.35,652.65 133.5,655.41 133.65,652.71 133.8,655.39 133.95,653.65 134.1,654.81 134.25,656.69 134.4,655.62 134.55,654.17 134.7,655.92 134.85,656.75 135,657.3 135.15,654.43 135.3,657.77 135.45,655.73 135.6,655.22 135.75,658.22 135.9,657.43 136.05,657.66 136.2,656.88 136.35,653.77 136.5,657.73 136.65,658.05 136.8,657.05 136.95,660.29 137.1,657.78 137.25,660.62 137.4,659.9 137.55,656.86 137.7,656.74 137.85,657.78 138,658.39 138.15,659.82 138.3,657.71 138.45,657.08 138.6,662.83 138.75,659.31 138.9,659.93 139.05,662.69 139.2,660 139.35,655.86 139.5,661.02 139.65,659.26 139.8,662.35 139.95,657.54 140.1,661.32 140.25,662.64 140.4,663.96 140.55,663.38 140.7,663.54 140.85,662.04 141,662.23 141.15,660.65 141.3,664.47 141.45,665.78 141.6,664.27 141.75,661.75 141.9,660.98 142.05,662.83 142.2,666.93 142.35,664.53 142.5,662.62 142.65,663.97 142.8,666.38 142.95,663.81 143.1,664.34 143.25,664.41 143.4,663.93 143.55,669.49 143.7,664.46 143.85,666.68 144,668.59 144.15,666.28 144.3,665.87 144.45,666.5 144.6,666.95 144.75,666.7 144.9,666.4 145.05,666.67 145.2,667.8 145.35,671.17 145.5,667.1 145.65,669.63 145.8,667.87 145.95,666.5 146.1,666.29 146.25,669.36 146.4,666.3 146.55,669.91 146.7,668.52 146.85,672.72 147,667.43 147.15,671.84 147.3,672.59 147.45,671.6 147.6,669.01 147.75,670.92 147.9,670.62 148.05,670.16 148.2,672.41 148.35,670.52 148.5,671.27 148.65,673.09 148.8,670.74 148.95,670.28 149.1,671.51 149.25,670.12 149.4,666.41 149.55,670.18 149.7,670.91 149.85,668.83 150,667.37 150.15,672.22 150.3,669.88 150.45,672.56 150.6,672.16 150.75,674.32 150.9,672.32 151.05,672.96 151.2,673.83 151.35,670.26 151.5,673.16 151.65,673.26 151.8,667.07 151.95,668.49 152.1,670.85 152.25,673.92 152.4,669.68 152.55,667.66 152.7,666.95 152.85,670.63 153,670.3 153.15,668.46 153.3,670.21 153.45,668.75 153.6,671.62 153.75,666.46 153.9,668.15 154.05,671.15 154.2,667.57 154.35,666.98 154.5,667.96 154.65,671.99 154.8,668.78 154.95,670.85 155.1,666.19 155.25,667.45 155.4,669.03 155.55,668.04 155.7,666.4 155.85,663.02 156,668.18 156.15,668.46 156.3,667.81 156.45,663.56 156.6,663.96 156.75,665.41 156.9,664.46 157.05,668.23 157.2,664.06 157.35,665.35 157.5,663.75 157.65,662.42 157.8,667.37 157.95,665.65 158.1,663.89 158.25,665.08 158.4,660.86 158.55,667.6 158.7,662.65 158.85,660.89 159,662.28 159.15,664.46 159.3,663.91 159.45,664.94 159.6,664.83 159.75,663.5 159.9,665.11 160.05,659.84 160.2,663.81 160.35,663.66 160.5,663.31 160.65,662.27 160.8,661.49 160.95,661.24 161.1,659.2 161.25,661.2 161.4,663.87 161.55,664.43 161.7,660.97 161.85,660.78 162,660.78 162.15,661.35 162.3,661.55 162.45,662.32 162.6,663.91 162.75,657.94 162.9,659.53 163.05,660.5 163.2,661.16 163.35,661.9 163.5,664.19 163.65,659.57 163.8,662.18 163.95,660.92 164.1,661.13 164.25,661.5 164.4,662.38 164.55,661.13 164.7,659.06 164.85,661.63 165,661.62 165.15,658.24 165.3,661.48 165.45,660.6 165.6,660.42 165.75,660.82 165.9,663.47 166.05,657.94 166.2,660.9 166.35,657.58 166.5,660.6 166.65,662.02 166.8,657.65 166.95,662.35 167.1,661.28 167.25,660.33 167.4,660.23 167.55,660.5 167.7,660.63 167.85,660.47 168,662.25 168.15,661.87 168.3,659.13 168.45,662.39 168.6,663.66 168.75,663.36 168.9,661.22 169.05,658.16 169.2,659.96 169.35,660.67 169.5,660.78 169.65,658.5 169.8,662.04 169.95,662.59 170.1,658.86 170.25,659.93 170.4,659.55 170.55,661.4 170.7,663.36 170.85,657.9 171,664.23 171.15,663.29 171.3,659.42 171.45,664.55 171.6,663.85 171.75,662.8 171.9,662.5 172.05,660.42 172.2,662.92 172.35,660.66 172.5,662.28 172.65,664.07 172.8,661.63 172.95,661.21 173.1,663.32 173.25,664.15 173.4,664.26 173.55,662.15 173.7,665.1 173.85,665.62 174,662.1 174.15,663.85 174.3,659.57 174.45,662.59 174.6,661.02 174.75,663.24 174.9,661.91 175.05,658.79 175.2,664.32 175.35,661.36 175.5,665.5 175.65,666.07 175.8,664.53 175.95,663.35 176.1,664.02 176.25,660.95 176.4,663.86 176.55,665.59 176.7,665.16 176.85,661.91 177,666.83 177.15,664.98 177.3,662.24 177.45,664.98 177.6,662.35 177.75,663.27 177.9,664.34 178.05,667.9 178.2,669.18 178.35,661.44 178.5,664.28 178.65,664.13 178.8,665.75 178.95,665.2 179.1,663.3 179.25,665.14 179.4,663.24 179.55,662.9 179.7,665.64 179.85,664.89 180,663.33 180.15,665.82 180.3,663.72 180.45,662.95 180.6,664.26 180.75,665.75 180.9,663.26 181.05,667.45 181.2,664.02 181.35,665.1 181.5,666.12 181.65,664.5 181.8,663.18 181.95,664.07 182.1,666.48 182.25,667.12 182.4,665.82 182.55,663.54 182.7,662.47 182.85,663.3 183,663.52 183.15,665 183.3,664.46 183.45,662.85 183.6,666.01 183.75,662.96 183.9,664.68 184.05,662.9 184.2,666.79 184.35,665.41 184.5,664.96 184.65,666.94 184.8,666.62 184.95,661.71 185.1,664.98 185.25,662.25 185.4,663.22 185.55,663.57 185.7,661.32 185.85,661.76 186,664.72 186.15,664.75 186.3,665.67 186.45,664.16 186.6,663.58 186.75,663.74 186.9,663.76 187.05,662.69 187.2,664.67 187.35,662.27 187.5,662.07 187.65,660.93 187.8,664.66 187.95,662.77 188.1,663.78 188.25,664.57 188.4,662.25 188.55,664.79 188.7,664.46 188.85,664.27 189,659.88 189.15,666.76 189.3,665.57 189.45,665.75 189.6,668.44 189.75,661.9 189.9,668.99 190.05,663.87 190.2,666.55 190.35,667.24 190.5,661.95 190.65,665.1 190.8,663.02 190.95,665.5 191.1,660.88 191.25,668.58 191.4,665.48 191.55,663.84 191.7,662.31 191.85,667.74 192,663.17 192.15,666.4 192.3,661.48 192.45,665.79 192.6,659.71 192.75,665.29 192.9,661.91 193.05,661.82 193.2,666.73 193.35,666.13 193.5,662.8 193.65,662.43 193.8,667.09 193.95,660.44 194.1,663.59 194.25,662.45 194.4,664.33 194.55,664.14 194.7,663.85 194.85,661.13 195,664.95 195.15,665.55 195.3,663.16 195.45,668.81 195.6,663.12 195.75,664.31 195.9,669.51 196.05,663.55 196.2,663.99 196.35,660.35 196.5,664.33 196.65,663.15 196.8,665.1 196.95,661.38 197.1,667.51 197.25,665.69 197.4,666.68 197.55,663.27 197.7,659.47 197.85,665.19 198,664.19 198.15,662.91 198.3,668.72 198.45,665.04 198.6,664.64 198.75,665.5 198.9,665.21 199.05,665.4 199.2,666.45 199.35,664.56 199.5,663 199.65,661.94 199.8,664.85 199.95,665.59 200.1,666.43 200.25,661.93 200.4,659.93 200.55,660.09 200.7,668.31 200.85,665.86 201,664.09 201.15,663.27 201.3,670.36 201.45,666.39 201.6,666.13 201.75,662.57 201.9,667.41 202.05,662.94 202.2,661.86 202.35,667.98 202.5,665.04 202.65,666.01 202.8,659.74 202.95,662.89 203.1,661.48 203.25,664.55 203.4,663.59 203.55,663.79 203.7,661.61 203.85,667.87 204,659.98 204.15,665.08 204.3,663.59 204.45,666.7 204.6,660.83 204.75,666.64 204.9,661.17 205.05,664.33 205.2,662.99 205.35,670.57 205.5,659.68 205.65,661.52 205.8,658.03 205.95,660.28 206.1,662.76 206.25,662.16 206.4,660.75 206.55,661.18 206.7,662.52 206.85,663.48 207,668.06 207.15,664.29 207.3,662.96 207.45,661.99 207.6,665.07 207.75,666.98 207.9,662.21 208.05,665.88 208.2,664.55 208.35,656.6 208.5,668.79 208.65,665.77 208.8,658.75 208.95,657.04 209.1,663.53 209.25,661.39" fill="none" stroke="#00195a" stroke-width="1.6" stroke-linejoin="round"/>
<text x="-1.03" y="14.6" font-size="20.5" textLength="28.27" lengthAdjust="spacingAndGlyphs">(a)</text>
<text x="-1.08" y="429.5" font-size="20.5" textLength="29.16" lengthAdjust="spacingAndGlyphs">(b)</text>
<text transform="translate(25.9,0) rotate(-90)" x="-303.77" y="0" font-size="20.4" textLength="234.21" lengthAdjust="spacingAndGlyphs">fit to crystalline S(q) [%]</text>
<text transform="translate(25.9,0) rotate(-90)" x="-717.47" y="0" font-size="20.4" textLength="234.21" lengthAdjust="spacingAndGlyphs">fit to crystalline S(q) [%]</text>
<text x="253.41" y="395.6" font-size="20.4" textLength="40.88" lengthAdjust="spacingAndGlyphs">[Ca]</text>
<text x="294.37" y="398.6" font-size="13.8" font-style="italic" textLength="40.64" lengthAdjust="spacingAndGlyphs">added</text>
<text x="342.16" y="395.6" font-size="20.4" textLength="51.29" lengthAdjust="spacingAndGlyphs">[mM]</text>
<text x="253.41" y="810.2" font-size="20.4" textLength="40.88" lengthAdjust="spacingAndGlyphs">[Ca]</text>
<text x="294.37" y="813.2" font-size="13.8" font-style="italic" textLength="40.64" lengthAdjust="spacingAndGlyphs">added</text>
<text x="342.16" y="810.2" font-size="20.4" textLength="51.29" lengthAdjust="spacingAndGlyphs">[mM]</text>
</svg>
</body></html>
